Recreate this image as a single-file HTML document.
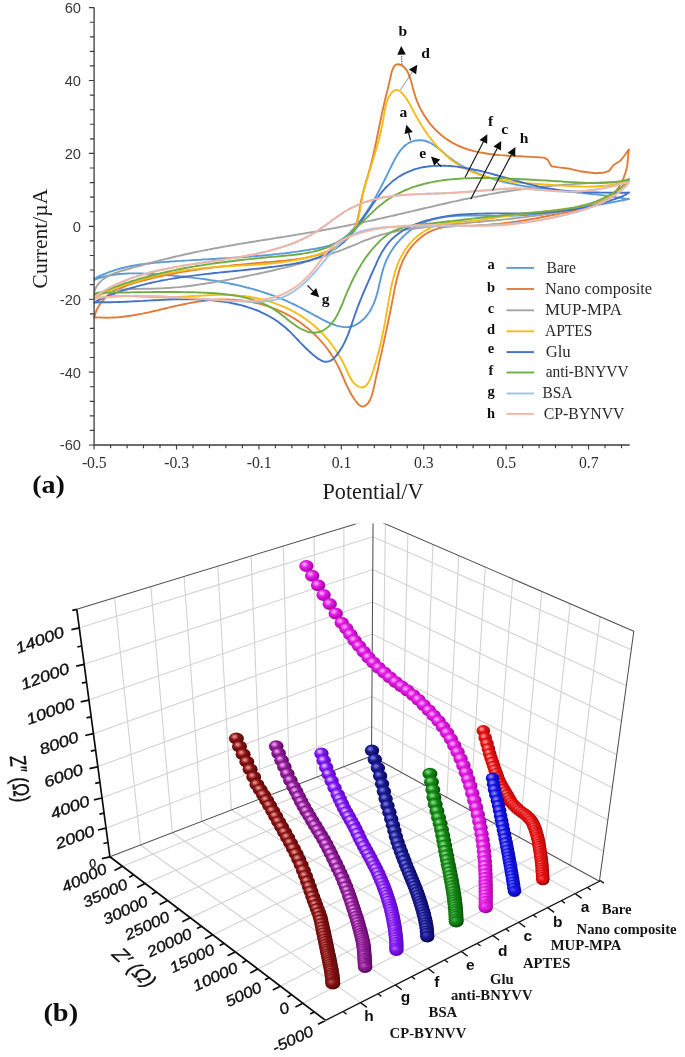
<!DOCTYPE html>
<html><head><meta charset="utf-8"><title>Figure</title>
<style>html,body{margin:0;padding:0;background:#fff}body{width:685px;height:1057px;overflow:hidden;font-family:"Liberation Sans",sans-serif}svg{display:block}</style></head><body>
<svg width="685" height="1057" viewBox="0 0 685 1057">
<defs><filter id="soft" filterUnits="userSpaceOnUse" x="0" y="0" width="685" height="1057"><feGaussianBlur stdDeviation="0.42"/></filter></defs>
<rect width="685" height="1057" fill="#fff"/>
<g filter="url(#soft)">
<rect width="685" height="1057" fill="#fff"/>
<defs><clipPath id="c3"><rect x="0" y="523.6" width="685" height="540"/></clipPath>
<radialGradient id="ga" cx=".42" cy=".4" r=".69" fx=".36" fy=".34"><stop offset="0" stop-color="#ff8c8c"/><stop offset=".09" stop-color="#ff8c8c"/><stop offset=".25" stop-color="#ef4646"/><stop offset=".42" stop-color="#e20c0c"/><stop offset=".62" stop-color="#cd0a0a"/><stop offset=".8" stop-color="#a20505"/><stop offset="1" stop-color="#7a0000"/></radialGradient>
<radialGradient id="gae" cx=".42" cy=".4" r=".69" fx=".36" fy=".34"><stop offset="0" stop-color="#ef4646"/><stop offset=".09" stop-color="#ef4646"/><stop offset=".25" stop-color="#e82626"/><stop offset=".42" stop-color="#e20c0c"/><stop offset=".62" stop-color="#cd0a0a"/><stop offset=".8" stop-color="#a20505"/><stop offset="1" stop-color="#7a0000"/></radialGradient>
<radialGradient id="gb" cx=".42" cy=".4" r=".69" fx=".36" fy=".34"><stop offset="0" stop-color="#8080ff"/><stop offset=".09" stop-color="#8080ff"/><stop offset=".25" stop-color="#4444ee"/><stop offset=".42" stop-color="#1212e0"/><stop offset=".62" stop-color="#0e0ecc"/><stop offset=".8" stop-color="#0707a1"/><stop offset="1" stop-color="#00007a"/></radialGradient>
<radialGradient id="gbe" cx=".42" cy=".4" r=".69" fx=".36" fy=".34"><stop offset="0" stop-color="#4444ee"/><stop offset=".09" stop-color="#4444ee"/><stop offset=".25" stop-color="#2828e6"/><stop offset=".42" stop-color="#1212e0"/><stop offset=".62" stop-color="#0e0ecc"/><stop offset=".8" stop-color="#0707a1"/><stop offset="1" stop-color="#00007a"/></radialGradient>
<radialGradient id="gc" cx=".42" cy=".4" r=".69" fx=".36" fy=".34"><stop offset="0" stop-color="#ff9cff"/><stop offset=".09" stop-color="#ff9cff"/><stop offset=".25" stop-color="#ed51ed"/><stop offset=".42" stop-color="#de14de"/><stop offset=".62" stop-color="#ca10ca"/><stop offset=".8" stop-color="#a108a1"/><stop offset="1" stop-color="#7c007c"/></radialGradient>
<radialGradient id="gce" cx=".42" cy=".4" r=".69" fx=".36" fy=".34"><stop offset="0" stop-color="#ed51ed"/><stop offset=".09" stop-color="#ed51ed"/><stop offset=".25" stop-color="#e52fe5"/><stop offset=".42" stop-color="#de14de"/><stop offset=".62" stop-color="#ca10ca"/><stop offset=".8" stop-color="#a108a1"/><stop offset="1" stop-color="#7c007c"/></radialGradient>
<radialGradient id="gd" cx=".42" cy=".4" r=".69" fx=".36" fy=".34"><stop offset="0" stop-color="#7ad87a"/><stop offset=".09" stop-color="#7ad87a"/><stop offset=".25" stop-color="#41a941"/><stop offset=".42" stop-color="#128212"/><stop offset=".62" stop-color="#0e720e"/><stop offset=".8" stop-color="#075007"/><stop offset="1" stop-color="#003200"/></radialGradient>
<radialGradient id="gde" cx=".42" cy=".4" r=".69" fx=".36" fy=".34"><stop offset="0" stop-color="#41a941"/><stop offset=".09" stop-color="#41a941"/><stop offset=".25" stop-color="#279427"/><stop offset=".42" stop-color="#128212"/><stop offset=".62" stop-color="#0e720e"/><stop offset=".8" stop-color="#075007"/><stop offset="1" stop-color="#003200"/></radialGradient>
<radialGradient id="ge" cx=".42" cy=".4" r=".69" fx=".36" fy=".34"><stop offset="0" stop-color="#7272dc"/><stop offset=".09" stop-color="#7272dc"/><stop offset=".25" stop-color="#3f3faf"/><stop offset=".42" stop-color="#15158a"/><stop offset=".62" stop-color="#111179"/><stop offset=".8" stop-color="#080856"/><stop offset="1" stop-color="#000036"/></radialGradient>
<radialGradient id="gee" cx=".42" cy=".4" r=".69" fx=".36" fy=".34"><stop offset="0" stop-color="#3f3faf"/><stop offset=".09" stop-color="#3f3faf"/><stop offset=".25" stop-color="#28289b"/><stop offset=".42" stop-color="#15158a"/><stop offset=".62" stop-color="#111179"/><stop offset=".8" stop-color="#080856"/><stop offset="1" stop-color="#000036"/></radialGradient>
<radialGradient id="gf" cx=".42" cy=".4" r=".69" fx=".36" fy=".34"><stop offset="0" stop-color="#d4b0ff"/><stop offset=".09" stop-color="#d4b0ff"/><stop offset=".25" stop-color="#a459f6"/><stop offset=".42" stop-color="#7d12ee"/><stop offset=".62" stop-color="#6f0eda"/><stop offset=".8" stop-color="#5207b1"/><stop offset="1" stop-color="#38008c"/></radialGradient>
<radialGradient id="gfe" cx=".42" cy=".4" r=".69" fx=".36" fy=".34"><stop offset="0" stop-color="#a459f6"/><stop offset=".09" stop-color="#a459f6"/><stop offset=".25" stop-color="#8f32f2"/><stop offset=".42" stop-color="#7d12ee"/><stop offset=".62" stop-color="#6f0eda"/><stop offset=".8" stop-color="#5207b1"/><stop offset="1" stop-color="#38008c"/></radialGradient>
<radialGradient id="gg" cx=".42" cy=".4" r=".69" fx=".36" fy=".34"><stop offset="0" stop-color="#ea96ee"/><stop offset=".09" stop-color="#ea96ee"/><stop offset=".25" stop-color="#b450ba"/><stop offset=".42" stop-color="#87168f"/><stop offset=".62" stop-color="#78127f"/><stop offset=".8" stop-color="#57085e"/><stop offset="1" stop-color="#3a0040"/></radialGradient>
<radialGradient id="gge" cx=".42" cy=".4" r=".69" fx=".36" fy=".34"><stop offset="0" stop-color="#b450ba"/><stop offset=".09" stop-color="#b450ba"/><stop offset=".25" stop-color="#9b30a2"/><stop offset=".42" stop-color="#87168f"/><stop offset=".62" stop-color="#78127f"/><stop offset=".8" stop-color="#57085e"/><stop offset="1" stop-color="#3a0040"/></radialGradient>
<radialGradient id="gh" cx=".42" cy=".4" r=".69" fx=".36" fy=".34"><stop offset="0" stop-color="#e48888"/><stop offset=".09" stop-color="#e48888"/><stop offset=".25" stop-color="#ae4646"/><stop offset=".42" stop-color="#821010"/><stop offset=".62" stop-color="#710d0d"/><stop offset=".8" stop-color="#4d0606"/><stop offset="1" stop-color="#2c0000"/></radialGradient>
<radialGradient id="ghe" cx=".42" cy=".4" r=".69" fx=".36" fy=".34"><stop offset="0" stop-color="#ae4646"/><stop offset=".09" stop-color="#ae4646"/><stop offset=".25" stop-color="#962828"/><stop offset=".42" stop-color="#821010"/><stop offset=".62" stop-color="#710d0d"/><stop offset=".8" stop-color="#4d0606"/><stop offset="1" stop-color="#2c0000"/></radialGradient>
</defs>
<g id="eis" clip-path="url(#c3)">
<path d="M114.6 597.7L140.5 845M150.8 586.6L172.3 832.7M184.1 576.5L201.7 821.4M217.8 566.1L231.4 810M251.1 555.9L260.9 798.6M283.3 546.1L289.5 787.6M314.1 536.7L316.9 777M343.9 527.5L343.5 766.8M385.4 523.9L382 761.8M407.9 533.6L402 772.8M432.9 544.5L424.1 784.9M458.8 555.6L446.9 797.5M485.3 567.1L470.3 810.3M512.8 579L494.4 823.6M541.7 591.5L519.6 837.4M570.2 603.8L544.5 851.1M600.1 616.7L570.5 865.4M79.4 627.8L373 536.8L631.3 649.7M84.2 664.3L372.8 569.5L626.3 685.7M88.7 700.1L372.5 602L621.5 720.7M93.2 733.7L372.3 634L616.8 754.7M97.4 766.8L372.1 665.5L612.3 787.7M101.9 798L371.9 696.5L607.8 820M105.9 828.2L371.7 726.5L603.5 851.3M122 866.6L382 761.8M144.6 883.7L402 772.8M167.2 900.8L424.1 784.9M189.8 917.9L446.9 797.5M212.4 935L470.3 810.3M235.1 952L494.4 823.6M257.7 969.1L519.6 837.4M280.3 986.2L544.5 851.1M302.9 1003.3L570.5 865.4M360.5 1002.6L140.5 845M395.4 984.9L172.3 832.7M427.9 968.4L201.7 821.4M461.3 951.4L231.4 810M492.8 935.4L260.9 798.6M518.7 922.3L289.5 787.6M547.7 907.6L316.9 777M575.2 893.6L343.5 766.8" stroke="#d2d2d2" stroke-width="1.1" fill="none"/>
<path d="M76.8 609.3L373.1 518.6M373.1 518.6L371.5 756M373.1 518.6L633.8 631.3L599.4 881.3M109.9 856.8L371.5 756L599.4 881.3" stroke="#505050" stroke-width="1.05" fill="none" stroke-linejoin="round"/>
<path d="M355.7 523.9L372 518.9" stroke="#fff" stroke-width="3"/>
<path d="M76.8 609.3L109.9 856.8L325.5 1020.4M79.4 627.8l-8 1.8M84.2 664.3l-8 1.8M81.8 646l-4.5 1M88.7 700.1l-8 1.8M86.5 682.2l-4.5 1M93.2 733.7l-8 1.8M91 716.9l-4.5 1M97.4 766.8l-8 1.8M95.3 750.2l-4.5 1M101.9 798l-8 1.8M99.7 782.4l-4.5 1M105.9 828.2l-8 1.8M103.9 813.1l-4.5 1M109.9 856.8l-8 1.8M107.9 842.5l-4.5 1M76.8 609.3l-4.5 1M122 866.6l-7.5 3.8M144.6 883.7l-7.5 3.8M133.3 875.1l-4.1 2.1M167.2 900.8l-7.5 3.8M155.9 892.2l-4.1 2.1M189.8 917.9l-7.5 3.8M178.5 909.3l-4.1 2.1M212.4 935l-7.5 3.8M201.1 926.4l-4.1 2.1M235.1 952l-7.5 3.8M223.8 943.5l-4.1 2.1M257.7 969.1l-7.5 3.8M246.4 960.6l-4.1 2.1M280.3 986.2l-7.5 3.8M269 977.7l-4.1 2.1M302.9 1003.3l-7.5 3.8M291.6 994.8l-4.1 2.1M325.5 1020.4l-7.5 3.8M314.2 1011.9l-4.1 2.1" stroke="#0c0c0c" stroke-width="1.7" fill="none" stroke-linejoin="round"/>
<path d="M325.5 1020.4L601 880.5M360.5 1002.6l6.4 4.8M343 1011.5l3.5 2.6M395.4 984.9l6.4 4.8M377.9 993.8l3.5 2.6M427.9 968.4l6.4 4.8M411.6 976.6l3.5 2.6M461.3 951.4l6.4 4.8M444.6 959.9l3.5 2.6M492.8 935.4l6.4 4.8M477.1 943.4l3.5 2.6M518.7 922.3l6.4 4.8M505.8 928.9l3.5 2.6M547.7 907.6l6.4 4.8M533.2 914.9l3.5 2.6M575.2 893.6l6.4 4.8M561.5 900.6l3.5 2.6M587.3 887.4l3.5 2.6M600.6 880.7l3.2 2.4" stroke="#141414" stroke-width="1.35" fill="none" stroke-linejoin="round"/>
<g fill="url(#ga)">
<ellipse cx="483.3" cy="730.7" rx="6.8" ry="5.7"/><ellipse cx="485.2" cy="737.7" rx="6.8" ry="5.7"/><ellipse cx="487" cy="743.6" rx="6.8" ry="5.7"/><ellipse cx="488.4" cy="748.9" rx="6.8" ry="5.7"/><ellipse cx="489.7" cy="753.7" rx="6.8" ry="5.7"/><ellipse cx="491" cy="758.1" rx="6.8" ry="5.7"/><ellipse cx="492.4" cy="762.3" rx="6.8" ry="5.7"/><ellipse cx="493.7" cy="766.3" rx="6.8" ry="5.7"/><ellipse cx="495" cy="770" rx="6.8" ry="5.7"/><ellipse cx="496.3" cy="773.6" rx="6.8" ry="5.7"/><ellipse cx="497.5" cy="776.9" rx="6.8" ry="5.7"/><ellipse cx="498.9" cy="780.4" rx="6.8" ry="5.7"/><ellipse cx="500.4" cy="783.6" rx="6.8" ry="5.7"/><ellipse cx="502" cy="786.5" rx="6.8" ry="5.7"/><ellipse cx="503.7" cy="789.4" rx="6.8" ry="5.7"/><ellipse cx="505.3" cy="792" rx="6.8" ry="5.7"/><ellipse cx="507" cy="794.8" rx="6.8" ry="5.7"/><ellipse cx="508.5" cy="797.6" rx="6.8" ry="5.7"/><ellipse cx="510" cy="800.2" rx="6.8" ry="5.7"/><ellipse cx="511.6" cy="802.7" rx="6.8" ry="5.7"/><ellipse cx="513.5" cy="804.9" rx="6.8" ry="5.7"/><ellipse cx="515.5" cy="806.9" rx="6.8" ry="5.7"/><ellipse cx="517.3" cy="808.6" rx="6.8" ry="5.7"/><ellipse cx="519.4" cy="810.4" rx="6.8" ry="5.7"/><ellipse cx="521.7" cy="812.1" rx="6.8" ry="5.7"/><ellipse cx="524" cy="813.6" rx="6.8" ry="5.7"/><ellipse cx="526" cy="815.3" rx="6.8" ry="5.7"/><ellipse cx="527.9" cy="817.1" rx="6.8" ry="5.7"/><ellipse cx="529.7" cy="818.9" rx="6.8" ry="5.7"/><ellipse cx="531.3" cy="820.9" rx="6.8" ry="5.7"/><ellipse cx="532.6" cy="823.1" rx="6.8" ry="5.7"/><ellipse cx="533.7" cy="825.4" rx="6.8" ry="5.7"/><ellipse cx="534.6" cy="827.6" rx="6.8" ry="5.7"/><ellipse cx="535.5" cy="830.1" rx="6.8" ry="5.7"/><ellipse cx="536.2" cy="832.5" rx="6.8" ry="5.7"/><ellipse cx="536.9" cy="834.8" rx="6.8" ry="5.7"/><ellipse cx="537.5" cy="837.1" rx="6.8" ry="5.7"/><ellipse cx="538" cy="839.3" rx="6.8" ry="5.7"/><ellipse cx="538.5" cy="841.8" rx="6.8" ry="5.7"/><ellipse cx="538.9" cy="844.1" rx="6.8" ry="5.7"/><ellipse cx="539.3" cy="846.5" rx="6.8" ry="5.7"/><ellipse cx="539.7" cy="848.7" rx="6.8" ry="5.7"/><ellipse cx="540.1" cy="851.2" rx="6.8" ry="5.7"/><ellipse cx="540.5" cy="853.7" rx="6.8" ry="5.7"/><ellipse cx="540.8" cy="856" rx="6.8" ry="5.7"/><ellipse cx="541.1" cy="858.2" rx="6.8" ry="5.7"/><ellipse cx="541.4" cy="860.8" rx="6.8" ry="5.7"/><ellipse cx="541.7" cy="863" rx="6.8" ry="5.7"/><ellipse cx="541.9" cy="865.3" rx="6.8" ry="5.7"/><ellipse cx="542.1" cy="867.9" rx="6.8" ry="5.7"/><ellipse cx="542.3" cy="870.2" rx="6.8" ry="5.7"/><ellipse cx="542.4" cy="872.5" rx="6.8" ry="5.7"/><ellipse cx="542.6" cy="875" rx="6.8" ry="5.7"/><ellipse cx="542.7" cy="877.4" rx="6.8" ry="5.7"/><ellipse cx="542.8" cy="879.6" rx="6.8" ry="5.7" fill="url(#gae)"/>
</g>
<g fill="url(#gb)">
<ellipse cx="492.6" cy="778.3" rx="6.8" ry="5.7"/><ellipse cx="493.6" cy="784.3" rx="6.8" ry="5.7"/><ellipse cx="494.6" cy="789.8" rx="6.8" ry="5.7"/><ellipse cx="495.8" cy="795" rx="6.8" ry="5.7"/><ellipse cx="497.4" cy="800.5" rx="6.8" ry="5.7"/><ellipse cx="498.6" cy="805.5" rx="6.8" ry="5.7"/><ellipse cx="499.6" cy="810.5" rx="6.8" ry="5.7"/><ellipse cx="500.6" cy="815.7" rx="6.8" ry="5.7"/><ellipse cx="501.6" cy="820.5" rx="6.8" ry="5.7"/><ellipse cx="502.5" cy="825.2" rx="6.8" ry="5.7"/><ellipse cx="503.4" cy="829.9" rx="6.8" ry="5.7"/><ellipse cx="504.4" cy="834.3" rx="6.8" ry="5.7"/><ellipse cx="505.2" cy="838.5" rx="6.8" ry="5.7"/><ellipse cx="506.1" cy="842.7" rx="6.8" ry="5.7"/><ellipse cx="506.8" cy="846.4" rx="6.8" ry="5.7"/><ellipse cx="507.5" cy="850.1" rx="6.8" ry="5.7"/><ellipse cx="508.2" cy="853.6" rx="6.8" ry="5.7"/><ellipse cx="508.8" cy="856.9" rx="6.8" ry="5.7"/><ellipse cx="509.3" cy="860" rx="6.8" ry="5.7"/><ellipse cx="509.9" cy="863.3" rx="6.8" ry="5.7"/><ellipse cx="510.5" cy="866.3" rx="6.8" ry="5.7"/><ellipse cx="511" cy="869.5" rx="6.8" ry="5.7"/><ellipse cx="511.5" cy="872.5" rx="6.8" ry="5.7"/><ellipse cx="512.1" cy="875.7" rx="6.8" ry="5.7"/><ellipse cx="512.6" cy="878.9" rx="6.8" ry="5.7"/><ellipse cx="513.1" cy="882.1" rx="6.8" ry="5.7"/><ellipse cx="513.6" cy="885.1" rx="6.8" ry="5.7"/><ellipse cx="514" cy="888.3" rx="6.8" ry="5.7"/><ellipse cx="514.5" cy="891.3" rx="6.8" ry="5.7" fill="url(#gbe)"/>
</g>
<g fill="url(#gc)">
<ellipse cx="306.4" cy="566.1" rx="7.2" ry="6"/><ellipse cx="312.2" cy="575.8" rx="7.2" ry="6"/><ellipse cx="318.1" cy="585.2" rx="7.2" ry="6"/><ellipse cx="323.6" cy="594.9" rx="7.2" ry="6"/><ellipse cx="329.7" cy="604.1" rx="7.2" ry="6"/><ellipse cx="335.7" cy="613.5" rx="7.2" ry="6"/><ellipse cx="341.7" cy="622.7" rx="7.2" ry="6"/><ellipse cx="346.3" cy="628.4" rx="7.2" ry="6"/><ellipse cx="350.4" cy="634.5" rx="7.2" ry="6"/><ellipse cx="354.6" cy="640.4" rx="7.2" ry="6"/><ellipse cx="359" cy="646.1" rx="7.2" ry="6"/><ellipse cx="363.7" cy="651.8" rx="7.2" ry="6"/><ellipse cx="368.5" cy="657.5" rx="7.2" ry="6"/><ellipse cx="373.3" cy="662.6" rx="7.2" ry="6"/><ellipse cx="378.6" cy="667.7" rx="7.2" ry="6"/><ellipse cx="384.2" cy="672.5" rx="7.2" ry="6"/><ellipse cx="389.8" cy="677.3" rx="7.2" ry="6"/><ellipse cx="395.5" cy="681.9" rx="7.2" ry="6"/><ellipse cx="401.4" cy="686.2" rx="7.2" ry="6"/><ellipse cx="407.3" cy="690.4" rx="7.2" ry="6"/><ellipse cx="413.1" cy="695" rx="7.2" ry="6"/><ellipse cx="418.4" cy="699.7" rx="7.2" ry="6"/><ellipse cx="423.6" cy="704.9" rx="7.2" ry="6"/><ellipse cx="428.8" cy="710.3" rx="7.2" ry="6"/><ellipse cx="433.7" cy="715.6" rx="7.2" ry="6"/><ellipse cx="438.5" cy="721.1" rx="7.2" ry="6"/><ellipse cx="442.9" cy="726.7" rx="7.2" ry="6"/><ellipse cx="447" cy="732.7" rx="7.2" ry="6"/><ellipse cx="450.8" cy="739" rx="7.2" ry="6"/><ellipse cx="454.3" cy="745.4" rx="7.2" ry="6"/><ellipse cx="457.6" cy="752.1" rx="7.2" ry="6"/><ellipse cx="460.6" cy="758.7" rx="7.2" ry="6"/><ellipse cx="463.4" cy="765.5" rx="7.2" ry="6"/><ellipse cx="465.9" cy="772.4" rx="7.2" ry="6"/><ellipse cx="468.2" cy="779.3" rx="7.2" ry="6"/><ellipse cx="470.3" cy="786.1" rx="7.2" ry="6"/><ellipse cx="472.3" cy="793.2" rx="7.2" ry="6"/><ellipse cx="474.3" cy="800.2" rx="7.2" ry="6"/><ellipse cx="476.1" cy="807.3" rx="7.2" ry="6"/><ellipse cx="477.8" cy="814.4" rx="7.2" ry="6"/><ellipse cx="479.3" cy="821.3" rx="7.2" ry="6"/><ellipse cx="480.5" cy="827.7" rx="7.2" ry="6"/><ellipse cx="481.6" cy="833.9" rx="7.2" ry="6"/><ellipse cx="482.6" cy="839.9" rx="7.2" ry="6"/><ellipse cx="483.3" cy="845.6" rx="7.2" ry="6"/><ellipse cx="483.9" cy="851" rx="7.2" ry="6"/><ellipse cx="484.4" cy="856.3" rx="7.2" ry="6"/><ellipse cx="484.8" cy="861" rx="7.2" ry="6"/><ellipse cx="485.1" cy="865.8" rx="7.2" ry="6"/><ellipse cx="485.3" cy="869.9" rx="7.2" ry="6"/><ellipse cx="485.5" cy="874" rx="7.2" ry="6"/><ellipse cx="485.6" cy="877.8" rx="7.2" ry="6"/><ellipse cx="485.6" cy="881.6" rx="7.2" ry="6"/><ellipse cx="485.7" cy="885" rx="7.2" ry="6"/><ellipse cx="485.7" cy="888.3" rx="7.2" ry="6"/><ellipse cx="485.7" cy="891.7" rx="7.2" ry="6"/><ellipse cx="485.8" cy="894.9" rx="7.2" ry="6"/><ellipse cx="485.7" cy="898.4" rx="7.2" ry="6"/><ellipse cx="485.7" cy="901.8" rx="7.2" ry="6"/><ellipse cx="485.7" cy="905.1" rx="7.2" ry="6"/><ellipse cx="485.7" cy="907.2" rx="7.2" ry="6" fill="url(#gce)"/>
</g>
<g fill="url(#gd)">
<ellipse cx="429.9" cy="773.8" rx="7.5" ry="6"/><ellipse cx="431.5" cy="782.1" rx="7.5" ry="6"/><ellipse cx="432.8" cy="789.7" rx="7.5" ry="6"/><ellipse cx="433.9" cy="797.3" rx="7.5" ry="6"/><ellipse cx="435.2" cy="804.3" rx="7.5" ry="6"/><ellipse cx="436.9" cy="811.1" rx="7.5" ry="6"/><ellipse cx="438.5" cy="817.4" rx="7.5" ry="6"/><ellipse cx="440.1" cy="823.6" rx="7.5" ry="6"/><ellipse cx="441.5" cy="829.4" rx="7.5" ry="6"/><ellipse cx="442.7" cy="835.2" rx="7.5" ry="6"/><ellipse cx="443.7" cy="840.4" rx="7.5" ry="6"/><ellipse cx="444.7" cy="845.6" rx="7.5" ry="6"/><ellipse cx="445.6" cy="850.7" rx="7.5" ry="6"/><ellipse cx="446.5" cy="855.3" rx="7.5" ry="6"/><ellipse cx="447.3" cy="859.7" rx="7.5" ry="6"/><ellipse cx="448.2" cy="864.2" rx="7.5" ry="6"/><ellipse cx="449" cy="868.1" rx="7.5" ry="6"/><ellipse cx="449.8" cy="872" rx="7.5" ry="6"/><ellipse cx="450.5" cy="875.7" rx="7.5" ry="6"/><ellipse cx="451.2" cy="879.2" rx="7.5" ry="6"/><ellipse cx="451.8" cy="882.7" rx="7.5" ry="6"/><ellipse cx="452.4" cy="885.9" rx="7.5" ry="6"/><ellipse cx="452.9" cy="888.9" rx="7.5" ry="6"/><ellipse cx="453.4" cy="891.9" rx="7.5" ry="6"/><ellipse cx="453.8" cy="894.9" rx="7.5" ry="6"/><ellipse cx="454.2" cy="897.5" rx="7.5" ry="6"/><ellipse cx="454.5" cy="900.1" rx="7.5" ry="6"/><ellipse cx="454.8" cy="902.5" rx="7.5" ry="6"/><ellipse cx="455.1" cy="904.8" rx="7.5" ry="6"/><ellipse cx="455.3" cy="907.2" rx="7.5" ry="6"/><ellipse cx="455.6" cy="909.7" rx="7.5" ry="6"/><ellipse cx="455.8" cy="912" rx="7.5" ry="6"/><ellipse cx="455.9" cy="914.4" rx="7.5" ry="6"/><ellipse cx="456" cy="916.7" rx="7.5" ry="6"/><ellipse cx="456.1" cy="919.3" rx="7.5" ry="6"/><ellipse cx="456.2" cy="921.6" rx="7.5" ry="6" fill="url(#gde)"/>
</g>
<g fill="url(#ge)">
<ellipse cx="372" cy="750.6" rx="7.2" ry="6"/><ellipse cx="374.8" cy="759.5" rx="7.2" ry="6"/><ellipse cx="377.9" cy="768" rx="7.2" ry="6"/><ellipse cx="380.1" cy="776" rx="7.2" ry="6"/><ellipse cx="382.1" cy="784" rx="7.2" ry="6"/><ellipse cx="383.9" cy="791.5" rx="7.2" ry="6"/><ellipse cx="385.6" cy="798.8" rx="7.2" ry="6"/><ellipse cx="387.5" cy="805.7" rx="7.2" ry="6"/><ellipse cx="389.4" cy="812.3" rx="7.2" ry="6"/><ellipse cx="391.2" cy="818.9" rx="7.2" ry="6"/><ellipse cx="392.9" cy="824.9" rx="7.2" ry="6"/><ellipse cx="394.4" cy="830.7" rx="7.2" ry="6"/><ellipse cx="395.9" cy="836.6" rx="7.2" ry="6"/><ellipse cx="397.5" cy="841.9" rx="7.2" ry="6"/><ellipse cx="399.2" cy="846.9" rx="7.2" ry="6"/><ellipse cx="400.9" cy="851.6" rx="7.2" ry="6"/><ellipse cx="402.7" cy="856.3" rx="7.2" ry="6"/><ellipse cx="404.3" cy="860.5" rx="7.2" ry="6"/><ellipse cx="405.9" cy="864.7" rx="7.2" ry="6"/><ellipse cx="407.5" cy="868.7" rx="7.2" ry="6"/><ellipse cx="409.1" cy="872.4" rx="7.2" ry="6"/><ellipse cx="410.6" cy="876.2" rx="7.2" ry="6"/><ellipse cx="412" cy="879.7" rx="7.2" ry="6"/><ellipse cx="413.4" cy="883" rx="7.2" ry="6"/><ellipse cx="414.7" cy="886.3" rx="7.2" ry="6"/><ellipse cx="416" cy="889.6" rx="7.2" ry="6"/><ellipse cx="417.1" cy="892.6" rx="7.2" ry="6"/><ellipse cx="418.1" cy="895.5" rx="7.2" ry="6"/><ellipse cx="419.1" cy="898.5" rx="7.2" ry="6"/><ellipse cx="420.1" cy="901.4" rx="7.2" ry="6"/><ellipse cx="420.9" cy="904.1" rx="7.2" ry="6"/><ellipse cx="421.7" cy="906.7" rx="7.2" ry="6"/><ellipse cx="422.5" cy="909.4" rx="7.2" ry="6"/><ellipse cx="423.3" cy="912.2" rx="7.2" ry="6"/><ellipse cx="424" cy="914.8" rx="7.2" ry="6"/><ellipse cx="424.6" cy="917.6" rx="7.2" ry="6"/><ellipse cx="425.3" cy="920.2" rx="7.2" ry="6"/><ellipse cx="425.8" cy="923" rx="7.2" ry="6"/><ellipse cx="426.3" cy="925.6" rx="7.2" ry="6"/><ellipse cx="426.7" cy="928.3" rx="7.2" ry="6"/><ellipse cx="426.9" cy="931.2" rx="7.2" ry="6"/><ellipse cx="427.1" cy="933.8" rx="7.2" ry="6"/><ellipse cx="427.3" cy="936.4" rx="7.2" ry="6" fill="url(#gee)"/>
</g>
<g fill="url(#gf)">
<ellipse cx="321.4" cy="753.4" rx="7.2" ry="6"/><ellipse cx="323.7" cy="760.6" rx="7.2" ry="6"/><ellipse cx="326.2" cy="767.6" rx="7.2" ry="6"/><ellipse cx="328.7" cy="774.3" rx="7.2" ry="6"/><ellipse cx="331.6" cy="781.1" rx="7.2" ry="6"/><ellipse cx="334.5" cy="787.8" rx="7.2" ry="6"/><ellipse cx="337.7" cy="794.4" rx="7.2" ry="6"/><ellipse cx="339.7" cy="798.9" rx="7.2" ry="6"/><ellipse cx="341.8" cy="803.6" rx="7.2" ry="6"/><ellipse cx="343.9" cy="807.9" rx="7.2" ry="6"/><ellipse cx="346.3" cy="812.3" rx="7.2" ry="6"/><ellipse cx="348.7" cy="816.5" rx="7.2" ry="6"/><ellipse cx="351" cy="820.7" rx="7.2" ry="6"/><ellipse cx="353.4" cy="825" rx="7.2" ry="6"/><ellipse cx="355.5" cy="829.1" rx="7.2" ry="6"/><ellipse cx="357.6" cy="833.5" rx="7.2" ry="6"/><ellipse cx="359.6" cy="837.7" rx="7.2" ry="6"/><ellipse cx="361.7" cy="842" rx="7.2" ry="6"/><ellipse cx="364" cy="846.2" rx="7.2" ry="6"/><ellipse cx="366.2" cy="850.3" rx="7.2" ry="6"/><ellipse cx="368.4" cy="854.3" rx="7.2" ry="6"/><ellipse cx="370.4" cy="858.1" rx="7.2" ry="6"/><ellipse cx="372.4" cy="861.9" rx="7.2" ry="6"/><ellipse cx="374.4" cy="865.7" rx="7.2" ry="6"/><ellipse cx="376.1" cy="869.1" rx="7.2" ry="6"/><ellipse cx="377.9" cy="872.7" rx="7.2" ry="6"/><ellipse cx="379.4" cy="876.2" rx="7.2" ry="6"/><ellipse cx="380.9" cy="879.7" rx="7.2" ry="6"/><ellipse cx="382.3" cy="883" rx="7.2" ry="6"/><ellipse cx="383.6" cy="886.3" rx="7.2" ry="6"/><ellipse cx="384.7" cy="889.3" rx="7.2" ry="6"/><ellipse cx="385.9" cy="892.6" rx="7.2" ry="6"/><ellipse cx="386.9" cy="895.5" rx="7.2" ry="6"/><ellipse cx="387.9" cy="898.6" rx="7.2" ry="6"/><ellipse cx="388.8" cy="901.5" rx="7.2" ry="6"/><ellipse cx="389.7" cy="904.4" rx="7.2" ry="6"/><ellipse cx="390.4" cy="907" rx="7.2" ry="6"/><ellipse cx="391.1" cy="909.6" rx="7.2" ry="6"/><ellipse cx="391.7" cy="912.3" rx="7.2" ry="6"/><ellipse cx="392.3" cy="914.9" rx="7.2" ry="6"/><ellipse cx="392.9" cy="917.4" rx="7.2" ry="6"/><ellipse cx="393.4" cy="919.9" rx="7.2" ry="6"/><ellipse cx="393.8" cy="922.4" rx="7.2" ry="6"/><ellipse cx="394.3" cy="925.1" rx="7.2" ry="6"/><ellipse cx="394.7" cy="927.6" rx="7.2" ry="6"/><ellipse cx="395.1" cy="930.1" rx="7.2" ry="6"/><ellipse cx="395.4" cy="932.9" rx="7.2" ry="6"/><ellipse cx="395.7" cy="935.3" rx="7.2" ry="6"/><ellipse cx="395.9" cy="937.8" rx="7.2" ry="6"/><ellipse cx="396.2" cy="940.3" rx="7.2" ry="6"/><ellipse cx="396.4" cy="943" rx="7.2" ry="6"/><ellipse cx="396.4" cy="945.5" rx="7.2" ry="6"/><ellipse cx="396.4" cy="948.1" rx="7.2" ry="6"/><ellipse cx="396.4" cy="950" rx="7.2" ry="6" fill="url(#gfe)"/>
</g>
<g fill="url(#gg)">
<ellipse cx="276.2" cy="746.2" rx="7.3" ry="6"/><ellipse cx="278.6" cy="753.2" rx="7.3" ry="6"/><ellipse cx="281.5" cy="760.2" rx="7.3" ry="6"/><ellipse cx="284.3" cy="766.8" rx="7.3" ry="6"/><ellipse cx="287.3" cy="773.7" rx="7.3" ry="6"/><ellipse cx="290.4" cy="780.4" rx="7.3" ry="6"/><ellipse cx="293.5" cy="786.8" rx="7.3" ry="6"/><ellipse cx="296.1" cy="791.6" rx="7.3" ry="6"/><ellipse cx="298.7" cy="796.7" rx="7.3" ry="6"/><ellipse cx="301.2" cy="801.7" rx="7.3" ry="6"/><ellipse cx="303.8" cy="806.6" rx="7.3" ry="6"/><ellipse cx="306.5" cy="811.3" rx="7.3" ry="6"/><ellipse cx="309.4" cy="816.1" rx="7.3" ry="6"/><ellipse cx="312.2" cy="820.7" rx="7.3" ry="6"/><ellipse cx="315.1" cy="825.4" rx="7.3" ry="6"/><ellipse cx="317.8" cy="830" rx="7.3" ry="6"/><ellipse cx="320.7" cy="834.8" rx="7.3" ry="6"/><ellipse cx="323.5" cy="839.3" rx="7.3" ry="6"/><ellipse cx="326.2" cy="844.2" rx="7.3" ry="6"/><ellipse cx="328.6" cy="848.9" rx="7.3" ry="6"/><ellipse cx="330.9" cy="853.6" rx="7.3" ry="6"/><ellipse cx="333.3" cy="858.5" rx="7.3" ry="6"/><ellipse cx="335.7" cy="863.3" rx="7.3" ry="6"/><ellipse cx="338" cy="868.2" rx="7.3" ry="6"/><ellipse cx="340.2" cy="873" rx="7.3" ry="6"/><ellipse cx="342.3" cy="877.6" rx="7.3" ry="6"/><ellipse cx="344.2" cy="882.2" rx="7.3" ry="6"/><ellipse cx="346" cy="886.8" rx="7.3" ry="6"/><ellipse cx="347.6" cy="890.9" rx="7.3" ry="6"/><ellipse cx="349.1" cy="895.2" rx="7.3" ry="6"/><ellipse cx="350.4" cy="899.1" rx="7.3" ry="6"/><ellipse cx="351.7" cy="902.9" rx="7.3" ry="6"/><ellipse cx="352.9" cy="906.7" rx="7.3" ry="6"/><ellipse cx="354" cy="910" rx="7.3" ry="6"/><ellipse cx="355.1" cy="913.4" rx="7.3" ry="6"/><ellipse cx="356.2" cy="916.7" rx="7.3" ry="6"/><ellipse cx="357.1" cy="919.8" rx="7.3" ry="6"/><ellipse cx="358" cy="922.7" rx="7.3" ry="6"/><ellipse cx="358.8" cy="925.7" rx="7.3" ry="6"/><ellipse cx="359.6" cy="928.4" rx="7.3" ry="6"/><ellipse cx="360.3" cy="931.1" rx="7.3" ry="6"/><ellipse cx="360.9" cy="933.8" rx="7.3" ry="6"/><ellipse cx="361.5" cy="936.1" rx="7.3" ry="6"/><ellipse cx="362.1" cy="938.6" rx="7.3" ry="6"/><ellipse cx="362.7" cy="940.9" rx="7.3" ry="6"/><ellipse cx="363.1" cy="943" rx="7.3" ry="6"/><ellipse cx="363.5" cy="945.2" rx="7.3" ry="6"/><ellipse cx="363.8" cy="947.4" rx="7.3" ry="6"/><ellipse cx="364" cy="949.5" rx="7.3" ry="6"/><ellipse cx="364.1" cy="951.7" rx="7.3" ry="6"/><ellipse cx="364.3" cy="954" rx="7.3" ry="6"/><ellipse cx="364.5" cy="956" rx="7.3" ry="6"/><ellipse cx="364.6" cy="958.4" rx="7.3" ry="6"/><ellipse cx="364.7" cy="960.4" rx="7.3" ry="6"/><ellipse cx="364.8" cy="962.8" rx="7.3" ry="6"/><ellipse cx="365" cy="964.9" rx="7.3" ry="6"/><ellipse cx="365.1" cy="967" rx="7.3" ry="6" fill="url(#gge)"/>
</g>
<g fill="url(#gh)">
<ellipse cx="236.4" cy="738.4" rx="7.5" ry="6"/><ellipse cx="239.5" cy="746.4" rx="7.5" ry="6"/><ellipse cx="243.1" cy="754.2" rx="7.5" ry="6"/><ellipse cx="246.8" cy="761.7" rx="7.5" ry="6"/><ellipse cx="250.1" cy="769.3" rx="7.5" ry="6"/><ellipse cx="253.7" cy="777" rx="7.5" ry="6"/><ellipse cx="256.9" cy="784.5" rx="7.5" ry="6"/><ellipse cx="260.2" cy="789.7" rx="7.5" ry="6"/><ellipse cx="263.5" cy="794.9" rx="7.5" ry="6"/><ellipse cx="266.6" cy="800.3" rx="7.5" ry="6"/><ellipse cx="269.6" cy="805.6" rx="7.5" ry="6"/><ellipse cx="272.7" cy="811.1" rx="7.5" ry="6"/><ellipse cx="275.7" cy="816.3" rx="7.5" ry="6"/><ellipse cx="278.6" cy="821.7" rx="7.5" ry="6"/><ellipse cx="281.6" cy="827" rx="7.5" ry="6"/><ellipse cx="284.6" cy="832.3" rx="7.5" ry="6"/><ellipse cx="287.6" cy="837.5" rx="7.5" ry="6"/><ellipse cx="290.5" cy="843" rx="7.5" ry="6"/><ellipse cx="293.4" cy="848.4" rx="7.5" ry="6"/><ellipse cx="296.1" cy="853.8" rx="7.5" ry="6"/><ellipse cx="298.7" cy="859.2" rx="7.5" ry="6"/><ellipse cx="301.1" cy="864.8" rx="7.5" ry="6"/><ellipse cx="303.4" cy="870.4" rx="7.5" ry="6"/><ellipse cx="305.5" cy="876" rx="7.5" ry="6"/><ellipse cx="307.5" cy="881.4" rx="7.5" ry="6"/><ellipse cx="309.3" cy="886.5" rx="7.5" ry="6"/><ellipse cx="311" cy="891.5" rx="7.5" ry="6"/><ellipse cx="312.7" cy="896.4" rx="7.5" ry="6"/><ellipse cx="314.2" cy="900.8" rx="7.5" ry="6"/><ellipse cx="315.8" cy="905.1" rx="7.5" ry="6"/><ellipse cx="317.2" cy="909" rx="7.5" ry="6"/><ellipse cx="318.7" cy="912.8" rx="7.5" ry="6"/><ellipse cx="320" cy="916.5" rx="7.5" ry="6"/><ellipse cx="320.9" cy="920.1" rx="7.5" ry="6"/><ellipse cx="321.7" cy="923.7" rx="7.5" ry="6"/><ellipse cx="322.4" cy="927.1" rx="7.5" ry="6"/><ellipse cx="323.1" cy="930.2" rx="7.5" ry="6"/><ellipse cx="323.7" cy="933.2" rx="7.5" ry="6"/><ellipse cx="324.4" cy="936.3" rx="7.5" ry="6"/><ellipse cx="325" cy="939.3" rx="7.5" ry="6"/><ellipse cx="325.5" cy="941.9" rx="7.5" ry="6"/><ellipse cx="326.1" cy="944.5" rx="7.5" ry="6"/><ellipse cx="326.6" cy="946.9" rx="7.5" ry="6"/><ellipse cx="327.1" cy="949.5" rx="7.5" ry="6"/><ellipse cx="327.5" cy="951.7" rx="7.5" ry="6"/><ellipse cx="328" cy="953.9" rx="7.5" ry="6"/><ellipse cx="328.5" cy="956" rx="7.5" ry="6"/><ellipse cx="328.9" cy="958.2" rx="7.5" ry="6"/><ellipse cx="329.4" cy="960.5" rx="7.5" ry="6"/><ellipse cx="329.8" cy="962.5" rx="7.5" ry="6"/><ellipse cx="330.2" cy="964.8" rx="7.5" ry="6"/><ellipse cx="330.7" cy="966.9" rx="7.5" ry="6"/><ellipse cx="331.1" cy="969" rx="7.5" ry="6"/><ellipse cx="331.4" cy="971.1" rx="7.5" ry="6"/><ellipse cx="331.8" cy="973.5" rx="7.5" ry="6"/><ellipse cx="332.1" cy="975.6" rx="7.5" ry="6"/><ellipse cx="332.4" cy="977.7" rx="7.5" ry="6"/><ellipse cx="332.5" cy="979.8" rx="7.5" ry="6"/><ellipse cx="332.7" cy="981.9" rx="7.5" ry="6"/><ellipse cx="332.8" cy="983.6" rx="7.5" ry="6" fill="url(#ghe)"/>
</g>
<g font-family="'Liberation Sans',sans-serif" font-style="italic" font-size="15.3" fill="#111" stroke="#111" stroke-width=".35" text-anchor="middle">
<text transform="translate(39.6 640) rotate(-20) scale(1.19 1)" y="5.3">14000</text>
<text transform="translate(45 676.4) rotate(-20) scale(1.19 1)" y="5.3">12000</text>
<text transform="translate(50.5 711.4) rotate(-20) scale(1.19 1)" y="5.3">10000</text>
<text transform="translate(59 743.2) rotate(-20) scale(1.19 1)" y="5.3">8000</text>
<text transform="translate(63.5 775.8) rotate(-20) scale(1.19 1)" y="5.3">6000</text>
<text transform="translate(70 807.3) rotate(-20) scale(1.19 1)" y="5.3">4000</text>
<text transform="translate(75 837.3) rotate(-20) scale(1.19 1)" y="5.3">2000</text>
<text transform="translate(92.5 863.5) rotate(-20)" y="4" font-size="12">0</text>
<text transform="translate(84.2 877.8) rotate(-25) scale(1.12 1)" y="5.3">40000</text>
<text transform="translate(105 893.2) rotate(-25) scale(1.12 1)" y="5.3">35000</text>
<text transform="translate(125.4 910.2) rotate(-25) scale(1.12 1)" y="5.3">30000</text>
<text transform="translate(147 925.6) rotate(-25) scale(1.12 1)" y="5.3">25000</text>
<text transform="translate(169.4 942.6) rotate(-25) scale(1.12 1)" y="5.3">20000</text>
<text transform="translate(192 958.4) rotate(-25) scale(1.12 1)" y="5.3">15000</text>
<text transform="translate(215.2 976.6) rotate(-25) scale(1.12 1)" y="5.3">10000</text>
<text transform="translate(243.4 994.4) rotate(-25) scale(1.12 1)" y="5.3">5000</text>
<text transform="translate(284 1008.5) rotate(-25) scale(1.12 1)" y="5.3">0</text>
<text transform="translate(292.6 1039.4) rotate(-25) scale(1.12 1)" y="5.3">-5000</text>
</g>
<g font-family="'Liberation Sans',sans-serif" font-size="17.6" fill="#111" stroke="#111" stroke-width=".3" text-anchor="middle">
<text transform="translate(18.5 779) rotate(84.5) scale(1 1.3)" y="5">Z″ (Ω)</text>
<text transform="translate(133.4 968.4) rotate(43) skewX(-18) scale(1.12 1.15)" y="5">Z′ (Ω)</text>
</g>
<g font-family="'Liberation Sans',sans-serif" font-weight="bold" font-size="15.5" fill="#111" text-anchor="middle">
<text x="585.1" y="912.3">a</text>
<text x="557.7" y="927.3">b</text>
<text x="527.7" y="941.3">c</text>
<text x="502.8" y="955.8">d</text>
<text x="470.3" y="969.7">e</text>
<text x="436.9" y="987.2">f</text>
<text x="405.4" y="1002.2">g</text>
<text x="369" y="1021.2">h</text>
</g>
<g font-family="'Liberation Serif',serif" font-weight="bold" font-size="14.7" fill="#151515" text-anchor="middle">
<text x="616.6" y="913.6">Bare</text>
<text x="626.6" y="933.6">Nano composite</text>
<text x="586.1" y="949.6">MUP-MPA</text>
<text x="546.7" y="967.5">APTES</text>
<text x="501.8" y="983.5">Glu</text>
<text x="491.8" y="999.5">anti-BNYVV</text>
<text x="442.9" y="1017">BSA</text>
<text x="427.9" y="1037.9">CP-BYNVV</text>
</g>
<text x="43.4" y="1020.6" font-family="'Liberation Serif',serif" font-weight="bold" font-size="26" fill="#111" textLength="34.8" lengthAdjust="spacingAndGlyphs">(b)</text>
</g>
<g id="cv">
<path d="M94.4 278.9C95 278.6 96.7 277.6 97.9 276.9C99.1 276.3 100.4 275.7 101.6 275.2C102.8 274.6 104.1 274.1 105.3 273.6C106.6 273.1 107.8 272.6 109.1 272.1C110.3 271.7 111.6 271.2 112.9 270.8C114.2 270.4 115.4 270 116.7 269.6C118 269.2 119.3 268.8 120.6 268.5C121.9 268.2 123.2 267.8 124.5 267.5C125.8 267.2 127.1 266.9 128.4 266.6C129.7 266.4 131 266.1 132.3 265.8C133.7 265.6 135 265.4 136.3 265.1C137.6 264.9 139 264.7 140.3 264.5C141.6 264.3 143 264.1 144.3 264C145.6 263.8 147 263.6 148.3 263.5C149.7 263.3 151 263.2 152.4 263C153.7 262.9 155 262.8 156.4 262.6C157.7 262.5 159.1 262.4 160.4 262.3C161.8 262.2 163.1 262.1 164.5 262C165.8 261.9 167.2 261.8 168.5 261.7C169.8 261.6 171.2 261.5 172.5 261.4C173.9 261.3 175.2 261.2 176.6 261.1C177.9 261 179.2 260.9 180.6 260.9C181.9 260.8 183.3 260.7 184.6 260.6C185.9 260.5 187.3 260.4 188.6 260.4C190 260.3 191.3 260.2 192.6 260.1C194 260 195.3 260 196.7 259.9C198 259.8 199.3 259.7 200.7 259.7C202 259.6 203.4 259.5 204.7 259.4C206 259.4 207.4 259.3 208.7 259.2C210 259.1 211.4 259.1 212.7 259C214.1 258.9 215.4 258.8 216.7 258.8C218.1 258.7 219.4 258.6 220.7 258.5C222.1 258.5 223.4 258.4 224.8 258.3C226.1 258.2 227.4 258.1 228.8 258.1C230.1 258 231.5 257.9 232.8 257.8C234.1 257.7 235.5 257.6 236.8 257.5C238.2 257.5 239.5 257.4 240.9 257.3C242.2 257.2 243.5 257.1 244.9 257C246.2 256.9 247.6 256.8 248.9 256.7C250.3 256.6 251.6 256.5 253 256.4C254.3 256.3 255.6 256.1 257 256C258.3 255.9 259.7 255.8 261 255.7C262.4 255.6 263.7 255.4 265.1 255.3C266.4 255.2 267.7 255.1 269.1 254.9C270.4 254.8 271.8 254.7 273.1 254.5C274.5 254.4 275.8 254.2 277.2 254.1C278.5 254 279.8 253.8 281.2 253.6C282.5 253.5 283.9 253.3 285.2 253.2C286.5 253 287.9 252.8 289.2 252.7C290.6 252.5 291.9 252.3 293.2 252.1C294.6 252 295.9 251.8 297.2 251.6C298.6 251.4 299.9 251.2 301.2 251C302.6 250.8 303.9 250.6 305.2 250.4C306.6 250.2 307.9 250 309.2 249.8C310.5 249.5 311.9 249.3 313.2 249.1C314.5 248.9 315.8 248.6 317.1 248.4C318.5 248.1 319.8 247.9 321.1 247.6C322.4 247.3 323.7 247 325 246.7C326.3 246.4 327.5 246 328.8 245.6C330 245.2 331.3 244.8 332.5 244.3C333.7 243.9 334.9 243.3 336.1 242.8C337.3 242.2 338.5 241.6 339.6 240.9C340.8 240.2 341.9 239.5 342.9 238.7C344 237.9 345.1 237 346.1 236.2C347.2 235.3 348.2 234.3 349.2 233.4C350.1 232.4 351.1 231.4 352 230.4C353 229.4 353.9 228.3 354.8 227.3C355.7 226.3 356.6 225.2 357.4 224.1C358.3 223.1 359.1 222 360 221C360.8 219.9 361.6 218.9 362.4 217.8C363.2 216.7 363.9 215.6 364.7 214.6C365.5 213.5 366.2 212.4 366.9 211.3C367.7 210.2 368.4 209.1 369.1 208C369.8 206.9 370.5 205.8 371.2 204.7C371.8 203.6 372.5 202.4 373.2 201.3C373.8 200.2 374.5 199.1 375.1 197.9C375.8 196.8 376.4 195.6 377 194.5C377.7 193.3 378.3 192.1 378.9 191C379.6 189.8 380.2 188.6 380.8 187.4C381.4 186.2 382 185 382.6 183.8C383.2 182.6 383.9 181.4 384.5 180.2C385.1 178.9 385.7 177.7 386.3 176.5C386.9 175.2 387.5 174 388.2 172.7C388.8 171.4 389.4 170.1 390 168.9C390.7 167.6 391.3 166.3 391.9 165C392.6 163.7 393.2 162.4 393.9 161.1C394.6 159.8 395.2 158.6 395.9 157.3C396.7 156.1 397.4 154.9 398.1 153.7C398.9 152.6 399.7 151.5 400.5 150.4C401.3 149.4 402.2 148.3 403.1 147.4C404 146.5 404.9 145.6 405.9 144.9C406.9 144.1 408 143.4 409 142.8C410.1 142.2 411.3 141.8 412.4 141.4C413.6 141 414.8 140.7 416 140.5C417.2 140.3 418.4 140.2 419.7 140.2C420.9 140.2 422.2 140.3 423.4 140.5C424.6 140.7 425.8 141.1 427 141.5C428.2 141.9 429.4 142.4 430.6 143C431.7 143.6 432.8 144.3 434 145C435.1 145.8 436.2 146.6 437.3 147.5C438.4 148.3 439.5 149.2 440.6 150.1C441.7 151 442.8 152 443.8 152.9C444.9 153.8 446 154.8 447.1 155.7C448.2 156.6 449.3 157.5 450.4 158.3C451.5 159.2 452.6 160 453.7 160.8C454.8 161.6 456 162.3 457.1 163C458.2 163.8 459.4 164.4 460.5 165.1C461.7 165.8 462.8 166.4 464 167.1C465.2 167.7 466.3 168.3 467.5 168.9C468.7 169.5 469.9 170 471.1 170.6C472.3 171.2 473.5 171.7 474.7 172.2C475.9 172.8 477.1 173.3 478.4 173.8C479.6 174.3 480.8 174.7 482 175.2C483.3 175.7 484.5 176.1 485.8 176.6C487 177 488.3 177.4 489.5 177.8C490.8 178.2 492 178.6 493.3 179C494.6 179.4 495.9 179.8 497.1 180.1C498.4 180.5 499.7 180.8 501 181.2C502.3 181.5 503.6 181.8 504.9 182.2C506.2 182.5 507.5 182.8 508.8 183.1C510.1 183.4 511.4 183.7 512.7 183.9C514 184.2 515.3 184.5 516.6 184.7C518 185 519.3 185.2 520.6 185.5C521.9 185.7 523.3 185.9 524.6 186.2C525.9 186.4 527.3 186.6 528.6 186.8C529.9 187 531.3 187.2 532.6 187.4C533.9 187.6 535.3 187.8 536.6 188C538 188.2 539.3 188.4 540.7 188.5C542 188.7 543.4 188.9 544.7 189C546.1 189.2 547.4 189.4 548.8 189.5C550.1 189.7 551.5 189.8 552.8 190C554.2 190.1 555.6 190.3 556.9 190.4C558.3 190.6 559.6 190.7 561 190.9C562.3 191 563.7 191.1 565 191.3C566.4 191.4 567.8 191.5 569.1 191.7C570.5 191.8 571.8 191.9 573.2 192.1C574.5 192.2 575.9 192.3 577.2 192.5C578.6 192.6 579.9 192.8 581.3 192.9C582.6 193 584 193.2 585.3 193.3C586.7 193.4 588 193.6 589.4 193.7C590.7 193.9 592 194 593.4 194.2C594.7 194.3 596.1 194.5 597.4 194.6C598.7 194.8 600.1 195 601.4 195.1C602.7 195.3 604 195.5 605.4 195.6C606.7 195.8 608 196 609.3 196.2C610.6 196.4 611.9 196.6 613.2 196.8C614.5 197 615.8 197.2 617.1 197.4C618.4 197.6 619.7 197.8 621 198C622.3 198.3 623.6 198.6 624.9 198.7C626.2 198.9 628.3 199 629 199M629 199C628.3 199.1 626.4 199.5 625.1 199.8C623.8 200.1 622.4 200.3 621 200.6C619.7 200.8 618.3 201.1 617 201.4C615.6 201.6 614.3 201.9 612.9 202.1C611.6 202.4 610.2 202.6 608.9 202.9C607.5 203.1 606.2 203.4 604.9 203.6C603.5 203.9 602.2 204.2 600.9 204.4C599.5 204.6 598.2 204.9 596.9 205.1C595.6 205.4 594.2 205.6 592.9 205.9C591.6 206.1 590.3 206.3 588.9 206.6C587.6 206.8 586.3 207.1 585 207.3C583.7 207.5 582.3 207.7 581 208C579.7 208.2 578.4 208.4 577.1 208.6C575.8 208.9 574.5 209.1 573.1 209.3C571.8 209.5 570.5 209.7 569.2 209.9C567.9 210.1 566.6 210.3 565.3 210.5C563.9 210.7 562.6 210.9 561.3 211.1C560 211.3 558.7 211.5 557.4 211.6C556.1 211.8 554.8 212 553.4 212.2C552.1 212.3 550.8 212.5 549.5 212.7C548.2 212.8 546.9 213 545.5 213.1C544.2 213.3 542.9 213.4 541.6 213.6C540.3 213.7 538.9 213.9 537.6 214C536.3 214.1 535 214.2 533.6 214.4C532.3 214.5 531 214.6 529.6 214.7C528.3 214.8 527 214.9 525.6 215C524.3 215.1 523 215.2 521.6 215.3C520.3 215.3 518.9 215.4 517.6 215.5C516.2 215.5 514.9 215.6 513.5 215.6C512.2 215.7 510.8 215.7 509.5 215.8C508.1 215.8 506.7 215.8 505.4 215.9C504 215.9 502.6 215.9 501.3 215.9C499.9 215.9 498.5 215.9 497.1 215.9C495.7 215.9 494.4 215.9 493 215.9C491.6 215.8 490.2 215.8 488.8 215.8C487.4 215.7 486 215.7 484.6 215.7C483.2 215.7 481.8 215.6 480.4 215.6C479 215.6 477.7 215.5 476.3 215.5C474.9 215.5 473.5 215.5 472.1 215.5C470.7 215.5 469.3 215.5 467.9 215.5C466.5 215.5 465.2 215.5 463.8 215.5C462.4 215.6 461 215.6 459.7 215.7C458.3 215.7 456.9 215.8 455.6 215.9C454.2 216 452.9 216.1 451.5 216.2C450.2 216.3 448.9 216.5 447.5 216.6C446.2 216.8 444.9 217 443.6 217.2C442.3 217.4 440.9 217.6 439.7 217.9C438.4 218.1 437.1 218.4 435.8 218.7C434.5 219 433.3 219.4 432 219.7C430.8 220.1 429.5 220.5 428.3 220.9C427.1 221.4 425.8 221.8 424.6 222.3C423.4 222.9 422.2 223.4 421.1 224C419.9 224.5 418.7 225.1 417.6 225.8C416.5 226.4 415.3 227.1 414.2 227.8C413.1 228.5 412 229.3 410.9 230.1C409.9 230.8 408.8 231.6 407.8 232.5C406.7 233.3 405.7 234.2 404.7 235.1C403.7 236 402.8 236.9 401.8 237.8C400.9 238.8 400 239.8 399.1 240.8C398.2 241.8 397.3 242.8 396.5 243.9C395.6 244.9 394.8 246 394 247.1C393.2 248.2 392.5 249.3 391.7 250.4C391 251.6 390.3 252.7 389.6 253.9C389 255.1 388.3 256.3 387.7 257.5C387.1 258.8 386.6 260 386 261.2C385.5 262.5 385 263.8 384.5 265.1C384.1 266.3 383.6 267.6 383.2 268.9C382.8 270.3 382.5 271.6 382.1 272.9C381.7 274.2 381.4 275.6 381.1 276.9C380.8 278.3 380.5 279.6 380.2 281C379.8 282.3 379.5 283.7 379.2 285C378.9 286.4 378.6 287.7 378.3 289.1C378 290.4 377.6 291.8 377.3 293.1C376.9 294.4 376.5 295.7 376.1 297C375.7 298.4 375.3 299.7 374.8 300.9C374.3 302.2 373.8 303.5 373.3 304.7C372.7 306 372.1 307.2 371.5 308.4C370.8 309.6 370.1 310.8 369.4 312C368.6 313.1 367.8 314.3 366.9 315.3C366 316.4 365.1 317.5 364.2 318.5C363.2 319.4 362.2 320.4 361.1 321.2C360.1 322.1 359 322.9 357.9 323.6C356.8 324.3 355.7 324.9 354.5 325.4C353.3 325.9 352.1 326.3 350.9 326.6C349.7 326.9 348.5 327.1 347.2 327.1C346 327.2 344.8 327.2 343.5 327.1C342.2 326.9 341 326.7 339.7 326.4C338.4 326.2 337.1 325.8 335.8 325.4C334.6 325 333.3 324.5 332 324C330.7 323.5 329.4 322.9 328.2 322.3C326.9 321.8 325.6 321.1 324.4 320.5C323.1 319.9 321.9 319.2 320.7 318.6C319.4 318 318.2 317.3 317 316.7C315.8 316 314.6 315.4 313.4 314.7C312.2 314 311.1 313.4 309.9 312.7C308.7 312.1 307.5 311.4 306.4 310.8C305.2 310.2 304 309.5 302.8 308.9C301.6 308.3 300.5 307.6 299.3 307C298.1 306.4 296.9 305.8 295.7 305.2C294.5 304.6 293.3 304 292.1 303.5C290.9 302.9 289.7 302.3 288.4 301.8C287.2 301.2 286 300.7 284.7 300.2C283.5 299.6 282.2 299.1 281 298.6C279.8 298.1 278.5 297.6 277.2 297.1C276 296.6 274.7 296.2 273.4 295.7C272.2 295.2 270.9 294.8 269.6 294.3C268.3 293.9 267.1 293.5 265.8 293C264.5 292.6 263.2 292.2 261.9 291.8C260.6 291.4 259.3 291 258 290.6C256.7 290.2 255.4 289.8 254.1 289.4C252.8 289.1 251.5 288.7 250.2 288.4C248.9 288 247.6 287.7 246.2 287.3C244.9 287 243.6 286.7 242.3 286.3C241 286 239.7 285.7 238.4 285.4C237 285.1 235.7 284.8 234.4 284.5C233.1 284.2 231.8 283.9 230.4 283.7C229.1 283.4 227.8 283.1 226.5 282.9C225.2 282.6 223.8 282.4 222.5 282.1C221.2 281.9 219.9 281.6 218.6 281.4C217.2 281.2 215.9 280.9 214.6 280.7C213.3 280.5 211.9 280.3 210.6 280.1C209.3 279.9 207.9 279.7 206.6 279.5C205.3 279.3 204 279.1 202.6 278.9C201.3 278.7 200 278.6 198.6 278.4C197.3 278.2 196 278 194.6 277.9C193.3 277.7 192 277.6 190.6 277.4C189.3 277.3 188 277.1 186.6 277C185.3 276.8 184 276.7 182.6 276.5C181.3 276.4 179.9 276.3 178.6 276.1C177.2 276 175.9 275.9 174.6 275.8C173.2 275.6 171.9 275.5 170.5 275.4C169.2 275.3 167.8 275.2 166.5 275.1C165.1 275 163.8 274.9 162.4 274.8C161.1 274.6 159.7 274.5 158.4 274.4C157 274.3 155.7 274.3 154.3 274.2C153 274.1 151.6 274 150.3 273.9C148.9 273.8 147.5 273.7 146.2 273.7C144.8 273.6 143.5 273.6 142.1 273.5C140.8 273.5 139.4 273.4 138.1 273.4C136.7 273.4 135.4 273.4 134 273.4C132.7 273.4 131.3 273.4 130 273.4C128.6 273.5 127.3 273.5 125.9 273.6C124.6 273.7 123.2 273.8 121.9 273.9C120.6 274 119.2 274.1 117.9 274.2C116.6 274.4 115.2 274.6 113.9 274.7C112.6 274.9 111.3 275.2 109.9 275.4C108.6 275.6 107.3 275.9 106 276.2C104.7 276.5 103.4 276.8 102.1 277.2C100.8 277.5 99.5 277.8 98.2 278.3C96.9 278.7 95 279.5 94.4 279.8" fill="none" stroke="#5b9bd5" stroke-width="1.9" stroke-linejoin="round" stroke-linecap="round"/>
<path d="M94.4 317.5C94.6 316.8 94.9 314.7 95.4 313.4C95.8 312.1 96.3 310.8 96.9 309.5C97.5 308.3 98.1 307.1 98.8 306C99.5 304.8 100.2 303.7 101 302.7C101.8 301.7 102.6 300.7 103.5 299.8C104.4 298.8 105.3 297.9 106.2 297.1C107.2 296.2 108.2 295.4 109.2 294.6C110.2 293.9 111.3 293.1 112.4 292.4C113.5 291.7 114.6 291.1 115.8 290.4C117 289.8 118.1 289.2 119.4 288.6C120.6 288 121.8 287.5 123 287C124.3 286.5 125.6 286 126.8 285.5C128.1 285 129.4 284.6 130.7 284.1C132 283.7 133.4 283.3 134.7 282.9C136 282.5 137.3 282.1 138.7 281.7C140 281.3 141.3 280.9 142.7 280.6C144 280.2 145.3 279.9 146.7 279.5C148 279.2 149.3 278.9 150.7 278.5C152 278.2 153.3 277.9 154.7 277.6C156 277.2 157.3 276.9 158.6 276.6C159.9 276.3 161.3 276.1 162.6 275.8C163.9 275.5 165.2 275.2 166.6 274.9C167.9 274.7 169.2 274.4 170.5 274.1C171.8 273.9 173.1 273.6 174.5 273.4C175.8 273.1 177.1 272.9 178.4 272.6C179.7 272.4 181 272.2 182.3 271.9C183.7 271.7 185 271.5 186.3 271.3C187.6 271.1 188.9 270.8 190.2 270.6C191.5 270.4 192.8 270.2 194.2 270C195.5 269.8 196.8 269.6 198.1 269.5C199.4 269.3 200.7 269.1 202 268.9C203.3 268.7 204.6 268.6 206 268.4C207.3 268.2 208.6 268 209.9 267.9C211.2 267.7 212.5 267.6 213.8 267.4C215.2 267.2 216.5 267.1 217.8 266.9C219.1 266.8 220.4 266.6 221.7 266.5C223 266.3 224.4 266.2 225.7 266.1C227 265.9 228.3 265.8 229.6 265.6C231 265.5 232.3 265.4 233.6 265.2C234.9 265.1 236.3 265 237.6 264.9C238.9 264.7 240.2 264.6 241.6 264.5C242.9 264.3 244.2 264.2 245.5 264.1C246.9 264 248.2 263.9 249.5 263.7C250.9 263.6 252.2 263.5 253.5 263.4C254.9 263.3 256.2 263.1 257.6 263C258.9 262.9 260.2 262.8 261.6 262.7C262.9 262.6 264.3 262.4 265.6 262.3C267 262.2 268.3 262.1 269.7 262C271 261.8 272.4 261.7 273.8 261.6C275.1 261.5 276.5 261.4 277.8 261.2C279.2 261.1 280.6 261 281.9 260.9C283.3 260.8 284.7 260.6 286 260.5C287.4 260.3 288.8 260.2 290.1 260C291.5 259.9 292.8 259.7 294.2 259.6C295.5 259.4 296.9 259.2 298.2 259C299.6 258.8 300.9 258.6 302.3 258.4C303.6 258.1 304.9 257.9 306.3 257.6C307.6 257.4 308.9 257.1 310.2 256.8C311.5 256.5 312.8 256.2 314.1 255.9C315.4 255.5 316.7 255.2 318 254.8C319.2 254.4 320.5 254 321.7 253.5C323 253.1 324.2 252.7 325.4 252.2C326.6 251.7 327.8 251.1 329 250.6C330.2 250 331.4 249.5 332.6 248.8C333.7 248.2 334.9 247.6 336 246.9C337.1 246.2 338.2 245.5 339.3 244.7C340.4 244 341.5 243.2 342.5 242.3C343.5 241.5 344.6 240.6 345.5 239.7C346.5 238.8 347.4 237.8 348.3 236.8C349.2 235.9 350.1 234.8 350.9 233.8C351.7 232.7 352.4 231.6 353.1 230.5C353.8 229.3 354.4 228.1 354.9 226.9C355.5 225.7 356 224.5 356.4 223.2C356.9 221.9 357.2 220.6 357.6 219.3C357.9 218 358.2 216.6 358.5 215.3C358.8 213.9 359.1 212.5 359.3 211.2C359.6 209.8 359.8 208.4 360 207.1C360.3 205.7 360.5 204.3 360.7 202.9C361 201.6 361.2 200.2 361.5 198.9C361.8 197.6 362.1 196.3 362.4 195C362.7 193.6 363.1 192.4 363.4 191.1C363.7 189.8 364.1 188.5 364.4 187.2C364.8 186 365.2 184.7 365.5 183.4C365.9 182.2 366.3 180.9 366.7 179.6C367.1 178.4 367.4 177.1 367.8 175.8C368.2 174.6 368.6 173.3 368.9 172C369.3 170.7 369.6 169.4 370 168.2C370.3 166.9 370.7 165.5 371 164.2C371.4 162.9 371.7 161.6 372 160.3C372.3 159 372.6 157.6 373 156.3C373.3 155 373.6 153.6 373.9 152.3C374.2 151 374.5 149.6 374.8 148.3C375.1 147 375.3 145.6 375.6 144.3C375.9 142.9 376.2 141.6 376.5 140.2C376.7 138.9 377 137.6 377.3 136.2C377.6 134.9 377.8 133.6 378.1 132.2C378.4 130.9 378.6 129.6 378.9 128.3C379.2 126.9 379.4 125.6 379.7 124.3C380 123 380.2 121.7 380.5 120.4C380.8 119.1 381 117.8 381.3 116.5C381.6 115.3 381.9 114 382.1 112.7C382.4 111.5 382.7 110.2 382.9 109C383.2 107.8 383.5 106.5 383.8 105.3C384.1 104.1 384.4 102.9 384.6 101.7C384.9 100.5 385.2 99.3 385.5 98C385.8 96.8 386.1 95.6 386.4 94.3C386.7 93.1 387 91.8 387.4 90.5C387.7 89.2 388 87.9 388.3 86.6C388.7 85.2 389 83.8 389.3 82.4C389.7 81 390 79.5 390.3 78C390.7 76.4 391 74.8 391.4 73.2C391.8 71.7 392.2 70.1 392.8 68.8C393.4 67.5 394 66.3 394.8 65.5C395.7 64.8 396.7 64.4 397.8 64.3C398.8 64.3 400.1 64.7 401.1 65.2C402.2 65.7 403.2 66.5 404 67.2C404.9 68 405.7 68.9 406.4 69.9C407.1 70.9 407.7 72 408.2 73.2C408.8 74.3 409.3 75.6 409.7 76.9C410.2 78.1 410.6 79.5 411 80.8C411.4 82.2 411.7 83.6 412.1 85C412.5 86.4 412.8 87.9 413.2 89.3C413.6 90.7 414 92.1 414.4 93.5C414.8 94.9 415.3 96.2 415.7 97.6C416.2 98.9 416.7 100.3 417.2 101.6C417.8 102.9 418.3 104.2 418.9 105.5C419.5 106.7 420.1 108 420.7 109.2C421.4 110.4 422 111.6 422.7 112.8C423.4 114 424.1 115.2 424.8 116.3C425.5 117.4 426.3 118.5 427.1 119.6C427.8 120.7 428.6 121.8 429.4 122.8C430.3 123.9 431.1 124.9 432 125.9C432.8 126.9 433.7 127.9 434.6 128.8C435.5 129.8 436.5 130.7 437.4 131.6C438.3 132.5 439.3 133.4 440.3 134.2C441.3 135.1 442.3 135.9 443.3 136.7C444.4 137.5 445.4 138.3 446.5 139C447.5 139.7 448.6 140.4 449.7 141.1C450.8 141.8 451.9 142.5 453.1 143.1C454.2 143.7 455.4 144.3 456.6 144.9C457.7 145.5 458.9 146 460.1 146.5C461.3 147 462.6 147.5 463.8 148C465 148.4 466.3 148.9 467.6 149.3C468.8 149.7 470.1 150.1 471.4 150.4C472.7 150.8 474 151.1 475.3 151.4C476.6 151.7 478 152 479.3 152.3C480.6 152.5 482 152.8 483.3 153C484.7 153.3 486 153.5 487.4 153.7C488.8 153.9 490.1 154 491.5 154.2C492.9 154.4 494.3 154.5 495.6 154.7C497 154.8 498.4 154.9 499.8 155.1C501.2 155.2 502.6 155.3 503.9 155.4C505.3 155.5 506.7 155.6 508.1 155.7C509.5 155.7 510.9 155.8 512.2 155.9C513.6 156 515 156 516.3 156.1C517.7 156.2 519.1 156.2 520.4 156.3C521.8 156.4 523.1 156.4 524.5 156.5C525.8 156.5 527.2 156.6 528.5 156.7C529.8 156.7 531.1 156.8 532.4 156.9C533.7 157 535 157.1 536.3 157.1C537.6 157.2 538.8 157.3 540.1 157.4C541.4 157.5 543.3 157.6 544 157.6M544 157.6L547.6 159.6L551.4 166.2L558.8 167.4L570 168.8L579.8 171.2L595.6 173.2L603 172.8L609.2 170.9L613.3 165.2L620.5 160.7L625 155L628.9 149.4L627.3 165.2M627.3 165.2C627.2 165.8 626.8 167.8 626.5 169.1C626.2 170.4 625.8 171.7 625.4 173C625 174.3 624.5 175.5 624 176.8C623.5 178.1 623 179.3 622.4 180.6C621.8 181.8 621.1 183 620.4 184.2C619.8 185.4 619 186.6 618.3 187.7C617.5 188.8 616.7 189.9 615.8 191C615 192 614.1 193 613.1 194C612.2 195 611.2 195.9 610.2 196.7C609.2 197.6 608.2 198.4 607.1 199.2C606 199.9 604.9 200.6 603.7 201.2C602.6 201.9 601.4 202.5 600.2 203C599 203.6 597.8 204.1 596.6 204.6C595.3 205.1 594.1 205.5 592.8 205.9C591.5 206.4 590.2 206.7 588.9 207.1C587.6 207.5 586.3 207.8 585 208.1C583.7 208.5 582.3 208.8 581 209.1C579.7 209.4 578.3 209.7 577 210C575.6 210.3 574.3 210.5 572.9 210.8C571.6 211.1 570.3 211.4 568.9 211.7C567.6 212 566.3 212.2 564.9 212.5C563.6 212.8 562.3 213.1 560.9 213.4C559.6 213.6 558.3 213.9 557 214.2C555.6 214.4 554.3 214.7 553 215C551.7 215.3 550.3 215.5 549 215.8C547.7 216 546.4 216.3 545.1 216.6C543.7 216.8 542.4 217.1 541.1 217.3C539.8 217.6 538.5 217.8 537.1 218.1C535.8 218.3 534.5 218.5 533.2 218.8C531.9 219 530.5 219.2 529.2 219.5C527.9 219.7 526.6 219.9 525.3 220.1C523.9 220.4 522.6 220.6 521.3 220.8C520 221 518.7 221.2 517.3 221.4C516 221.6 514.7 221.8 513.4 222C512 222.2 510.7 222.3 509.4 222.5C508.1 222.7 506.7 222.9 505.4 223C504.1 223.2 502.7 223.3 501.4 223.5C500.1 223.6 498.7 223.8 497.4 223.9C496.1 224.1 494.7 224.2 493.4 224.3C492 224.4 490.7 224.6 489.4 224.7C488 224.8 486.7 224.9 485.3 225C484 225.1 482.6 225.2 481.3 225.2C479.9 225.3 478.6 225.4 477.2 225.4C475.8 225.5 474.5 225.6 473.1 225.6C471.7 225.6 470.4 225.7 469 225.7C467.6 225.7 466.3 225.8 464.9 225.8C463.5 225.8 462.1 225.8 460.8 225.8C459.4 225.9 458 225.9 456.7 226C455.3 226 453.9 226.1 452.6 226.2C451.2 226.3 449.9 226.4 448.6 226.5C447.2 226.6 445.9 226.8 444.6 227C443.3 227.2 442 227.5 440.7 227.8C439.4 228.1 438.1 228.4 436.9 228.8C435.6 229.2 434.4 229.6 433.1 230.1C431.9 230.6 430.7 231.2 429.5 231.8C428.3 232.4 427.2 233.1 426 233.8C424.9 234.5 423.8 235.3 422.7 236.1C421.6 236.9 420.6 237.8 419.5 238.7C418.5 239.5 417.5 240.4 416.5 241.4C415.5 242.3 414.6 243.3 413.6 244.3C412.7 245.3 411.8 246.3 411 247.4C410.2 248.4 409.4 249.5 408.6 250.6C407.8 251.7 407.1 252.8 406.4 254C405.7 255.1 405.1 256.3 404.5 257.5C403.8 258.7 403.3 259.9 402.7 261.1C402.2 262.4 401.7 263.6 401.2 264.9C400.7 266.1 400.2 267.4 399.8 268.7C399.4 270 399 271.3 398.6 272.6C398.2 273.9 397.8 275.2 397.5 276.5C397.1 277.9 396.8 279.2 396.5 280.5C396.2 281.9 395.9 283.2 395.6 284.6C395.3 285.9 395 287.3 394.7 288.6C394.5 290 394.2 291.3 394 292.6C393.7 294 393.4 295.3 393.2 296.7C392.9 298 392.7 299.3 392.4 300.7C392.2 302 391.9 303.3 391.7 304.6C391.4 305.9 391.1 307.2 390.9 308.5C390.6 309.8 390.4 311.1 390.1 312.4C389.8 313.7 389.6 315 389.3 316.3C389.1 317.6 388.8 318.9 388.5 320.1C388.3 321.4 388 322.7 387.7 324C387.4 325.3 387.2 326.5 386.9 327.8C386.6 329.1 386.4 330.4 386.1 331.6C385.8 332.9 385.5 334.2 385.3 335.5C385 336.8 384.7 338 384.4 339.3C384.1 340.6 383.9 341.9 383.6 343.2C383.3 344.5 383 345.8 382.7 347.1C382.4 348.3 382.2 349.6 381.9 351C381.6 352.3 381.3 353.6 381 354.9C380.7 356.2 380.4 357.5 380.1 358.9C379.8 360.2 379.5 361.5 379.2 362.9C378.9 364.2 378.6 365.6 378.4 366.9C378.1 368.3 377.8 369.6 377.5 371C377.1 372.4 376.8 373.8 376.5 375.2C376.2 376.6 375.9 378 375.6 379.4C375.3 380.8 375 382.3 374.7 383.7C374.4 385.1 374.1 386.6 373.8 388.1C373.4 389.5 373.1 391 372.7 392.4C372.4 393.8 372 395.2 371.5 396.5C371 397.8 370.5 399.1 369.9 400.2C369.3 401.3 368.7 402.4 367.9 403.3C367.1 404.3 366.2 405.2 365.3 405.7C364.3 406.3 363.3 406.7 362.3 406.6C361.3 406.5 360.3 405.9 359.4 405.2C358.4 404.5 357.5 403.3 356.7 402.3C355.8 401.3 355 400.1 354.2 399C353.4 397.8 352.7 396.7 352 395.6C351.3 394.4 350.6 393.2 350 392C349.4 390.9 348.8 389.7 348.2 388.5C347.6 387.3 347 386.1 346.4 384.8C345.9 383.6 345.3 382.4 344.8 381.2C344.3 380 343.7 378.7 343.2 377.5C342.7 376.3 342.1 375 341.6 373.8C341.1 372.6 340.5 371.4 340 370.2C339.4 368.9 338.8 367.7 338.2 366.5C337.7 365.3 337 364.1 336.4 362.9C335.8 361.8 335.1 360.6 334.4 359.4C333.8 358.3 333.1 357.1 332.3 356C331.6 354.8 330.9 353.7 330.1 352.6C329.3 351.5 328.5 350.4 327.7 349.3C326.9 348.2 326.1 347.1 325.2 346C324.4 345 323.5 343.9 322.6 342.9C321.7 341.9 320.8 340.8 319.9 339.8C319 338.8 318 337.8 317.1 336.9C316.1 335.9 315.1 334.9 314.1 334C313.2 333 312.1 332.1 311.1 331.2C310.1 330.3 309.1 329.4 308 328.5C307 327.6 305.9 326.8 304.8 325.9C303.7 325.1 302.7 324.3 301.6 323.5C300.4 322.7 299.3 321.9 298.2 321.1C297.1 320.4 295.9 319.6 294.8 318.9C293.7 318.2 292.5 317.5 291.3 316.8C290.2 316.1 289 315.5 287.8 314.8C286.6 314.2 285.4 313.6 284.2 313C283 312.4 281.8 311.8 280.6 311.2C279.4 310.7 278.2 310.1 276.9 309.6C275.7 309.1 274.5 308.6 273.2 308.1C272 307.7 270.7 307.2 269.5 306.8C268.2 306.3 266.9 305.9 265.7 305.5C264.4 305.1 263.1 304.8 261.9 304.4C260.6 304.1 259.3 303.7 258 303.4C256.7 303.1 255.4 302.8 254.1 302.5C252.8 302.2 251.5 302 250.2 301.7C248.9 301.5 247.6 301.3 246.3 301.1C244.9 300.9 243.6 300.7 242.3 300.5C241 300.4 239.7 300.2 238.3 300.1C237 300 235.7 299.9 234.4 299.8C233 299.7 231.7 299.6 230.4 299.6C229 299.5 227.7 299.5 226.3 299.4C225 299.4 223.7 299.4 222.3 299.4C221 299.5 219.7 299.5 218.3 299.5C217 299.6 215.6 299.7 214.3 299.7C213 299.8 211.6 299.9 210.3 300.1C209 300.2 207.6 300.3 206.3 300.5C205 300.6 203.6 300.8 202.3 301C201 301.1 199.6 301.3 198.3 301.5C197 301.8 195.6 302 194.3 302.2C193 302.4 191.7 302.7 190.3 302.9C189 303.2 187.7 303.4 186.3 303.7C185 304 183.7 304.3 182.4 304.5C181 304.8 179.7 305.1 178.4 305.4C177.1 305.7 175.7 306 174.4 306.3C173.1 306.6 171.8 306.9 170.4 307.2C169.1 307.6 167.8 307.9 166.5 308.2C165.1 308.5 163.8 308.8 162.5 309.1C161.2 309.4 159.8 309.7 158.5 310.1C157.2 310.4 155.9 310.7 154.5 311C153.2 311.3 151.9 311.6 150.6 311.9C149.2 312.2 147.9 312.5 146.6 312.7C145.3 313 143.9 313.3 142.6 313.6C141.3 313.8 140 314.1 138.6 314.3C137.3 314.6 136 314.8 134.6 315.1C133.3 315.3 132 315.5 130.6 315.7C129.3 315.9 128 316.1 126.6 316.3C125.3 316.5 124 316.6 122.6 316.8C121.3 316.9 120 317 118.6 317.2C117.3 317.3 115.9 317.4 114.6 317.5C113.3 317.5 111.9 317.6 110.6 317.6C109.2 317.7 107.9 317.7 106.5 317.7C105.2 317.7 103.9 317.7 102.5 317.6C101.2 317.6 99.8 317.4 98.5 317.4C97.1 317.4 95.1 317.5 94.4 317.5" fill="none" stroke="#e17c38" stroke-width="1.9" stroke-linejoin="round" stroke-linecap="round"/>
<path d="M94.4 291.2C94.7 290.5 95.4 288.4 96.1 287.2C96.8 285.9 97.7 284.8 98.5 283.8C99.4 282.7 100.3 281.8 101.3 280.9C102.2 280 103.2 279.2 104.3 278.5C105.4 277.7 106.5 277 107.6 276.4C108.8 275.8 109.9 275.2 111.1 274.6C112.3 274.1 113.6 273.6 114.8 273.1C116.1 272.7 117.4 272.2 118.7 271.8C119.9 271.4 121.2 271 122.5 270.6C123.8 270.2 125.2 269.8 126.5 269.5C127.8 269.1 129.1 268.7 130.4 268.3C131.7 268 133 267.6 134.3 267.2C135.6 266.8 136.9 266.5 138.3 266.1C139.6 265.8 140.9 265.4 142.2 265C143.5 264.7 144.8 264.3 146.1 264C147.4 263.6 148.7 263.3 150.1 262.9C151.4 262.6 152.7 262.3 154 261.9C155.3 261.6 156.6 261.2 157.9 260.9C159.2 260.6 160.6 260.2 161.9 259.9C163.2 259.6 164.5 259.3 165.8 258.9C167.1 258.6 168.5 258.3 169.8 258C171.1 257.7 172.4 257.4 173.7 257C175 256.7 176.4 256.4 177.7 256.1C179 255.8 180.3 255.5 181.6 255.2C183 254.9 184.3 254.6 185.6 254.3C186.9 254 188.2 253.7 189.6 253.5C190.9 253.2 192.2 252.9 193.5 252.6C194.8 252.3 196.2 252 197.5 251.8C198.8 251.5 200.1 251.2 201.5 250.9C202.8 250.7 204.1 250.4 205.4 250.1C206.8 249.9 208.1 249.6 209.4 249.4C210.7 249.1 212.1 248.9 213.4 248.6C214.7 248.3 216.1 248.1 217.4 247.9C218.7 247.6 220 247.4 221.4 247.1C222.7 246.9 224 246.6 225.4 246.4C226.7 246.2 228 245.9 229.4 245.7C230.7 245.5 232 245.2 233.4 245C234.7 244.8 236 244.5 237.4 244.3C238.7 244.1 240 243.9 241.4 243.6C242.7 243.4 244 243.2 245.4 243C246.7 242.8 248 242.5 249.4 242.3C250.7 242.1 252 241.9 253.4 241.7C254.7 241.5 256 241.2 257.4 241C258.7 240.8 260 240.6 261.4 240.4C262.7 240.2 264 240 265.4 239.7C266.7 239.5 268 239.3 269.4 239.1C270.7 238.9 272.1 238.7 273.4 238.5C274.7 238.3 276.1 238 277.4 237.8C278.7 237.6 280.1 237.4 281.4 237.2C282.7 237 284.1 236.8 285.4 236.6C286.7 236.3 288.1 236.1 289.4 235.9C290.7 235.7 292.1 235.5 293.4 235.3C294.7 235 296.1 234.8 297.4 234.6C298.7 234.4 300.1 234.2 301.4 233.9C302.7 233.7 304.1 233.5 305.4 233.3C306.7 233 308.1 232.8 309.4 232.6C310.7 232.4 312.1 232.1 313.4 231.9C314.7 231.7 316 231.4 317.4 231.2C318.7 231 320 230.7 321.4 230.5C322.7 230.2 324 230 325.3 229.8C326.7 229.5 328 229.3 329.3 229C330.7 228.8 332 228.5 333.3 228.3C334.6 228 336 227.8 337.3 227.5C338.6 227.3 339.9 227 341.3 226.7C342.6 226.5 343.9 226.2 345.2 226C346.6 225.7 347.9 225.4 349.2 225.2C350.5 224.9 351.8 224.6 353.2 224.4C354.5 224.1 355.8 223.8 357.1 223.5C358.5 223.3 359.8 223 361.1 222.7C362.4 222.4 363.7 222.2 365.1 221.9C366.4 221.6 367.7 221.3 369 221C370.4 220.7 371.7 220.5 373 220.2C374.3 219.9 375.6 219.6 377 219.3C378.3 219 379.6 218.7 380.9 218.4C382.2 218.1 383.5 217.8 384.9 217.5C386.2 217.2 387.5 216.9 388.8 216.6C390.1 216.3 391.5 216 392.8 215.7C394.1 215.4 395.4 215.1 396.7 214.8C398.1 214.5 399.4 214.2 400.7 213.9C402 213.6 403.3 213.3 404.6 213C406 212.7 407.3 212.3 408.6 212C409.9 211.7 411.2 211.4 412.6 211.1C413.9 210.8 415.2 210.5 416.5 210.2C417.8 209.9 419.1 209.5 420.5 209.2C421.8 208.9 423.1 208.6 424.4 208.3C425.7 208 427.1 207.7 428.4 207.4C429.7 207.1 431 206.8 432.3 206.5C433.6 206.1 435 205.8 436.3 205.5C437.6 205.2 438.9 204.9 440.2 204.6C441.6 204.3 442.9 204 444.2 203.7C445.5 203.4 446.8 203.1 448.2 202.8C449.5 202.5 450.8 202.2 452.1 201.9C453.4 201.6 454.8 201.3 456.1 201.1C457.4 200.8 458.7 200.5 460.1 200.2C461.4 199.9 462.7 199.6 464 199.3C465.3 199.1 466.7 198.8 468 198.5C469.3 198.2 470.6 198 472 197.7C473.3 197.4 474.6 197.1 475.9 196.9C477.3 196.6 478.6 196.4 479.9 196.1C481.3 195.8 482.6 195.6 483.9 195.3C485.2 195.1 486.6 194.8 487.9 194.6C489.2 194.3 490.5 194.1 491.9 193.9C493.2 193.6 494.5 193.4 495.9 193.2C497.2 192.9 498.5 192.7 499.9 192.5C501.2 192.3 502.5 192.1 503.9 191.8C505.2 191.6 506.5 191.4 507.9 191.2C509.2 191 510.5 190.8 511.9 190.6C513.2 190.4 514.5 190.2 515.9 190C517.2 189.9 518.6 189.7 519.9 189.5C521.2 189.3 522.6 189.1 523.9 189C525.2 188.8 526.6 188.6 527.9 188.5C529.3 188.3 530.6 188.1 531.9 188C533.3 187.8 534.6 187.7 536 187.5C537.3 187.4 538.7 187.2 540 187.1C541.3 186.9 542.7 186.8 544 186.6C545.4 186.5 546.7 186.4 548.1 186.2C549.4 186.1 550.7 186 552.1 185.8C553.4 185.7 554.8 185.6 556.1 185.5C557.5 185.4 558.8 185.2 560.2 185.1C561.5 185 562.9 184.9 564.2 184.8C565.6 184.7 566.9 184.6 568.2 184.5C569.6 184.4 570.9 184.3 572.3 184.2C573.6 184.1 575 184 576.3 183.9C577.7 183.8 579 183.7 580.4 183.6C581.7 183.5 583.1 183.5 584.4 183.4C585.8 183.3 587.1 183.2 588.5 183.1C589.8 183.1 591.2 183 592.5 182.9C593.9 182.8 595.2 182.8 596.6 182.7C597.9 182.6 599.3 182.6 600.6 182.5C602 182.4 603.3 182.4 604.7 182.3C606 182.3 607.4 182.2 608.7 182.1C610.1 182.1 611.5 182 612.8 182C614.2 181.9 615.5 181.9 616.9 181.8C618.2 181.8 619.6 181.7 620.9 181.7C622.3 181.6 623.6 181.7 625 181.5C626.3 181.4 628.3 181.1 629 181M629 181C628.6 181.5 627.3 183.2 626.4 184.3C625.5 185.3 624.5 186.3 623.5 187.3C622.5 188.2 621.5 189.1 620.4 189.9C619.4 190.8 618.3 191.6 617.2 192.3C616.1 193.1 615 193.8 613.9 194.5C612.8 195.2 611.6 195.8 610.5 196.5C609.3 197.1 608.1 197.7 606.9 198.2C605.7 198.8 604.5 199.3 603.3 199.8C602 200.3 600.8 200.8 599.6 201.3C598.3 201.7 597.1 202.2 595.8 202.6C594.5 203 593.3 203.4 592 203.8C590.7 204.2 589.4 204.6 588.1 205C586.9 205.3 585.6 205.7 584.3 206.1C583 206.4 581.7 206.8 580.4 207.1C579.1 207.4 577.8 207.8 576.5 208.1C575.2 208.4 573.9 208.7 572.6 209C571.3 209.3 570 209.6 568.7 209.9C567.4 210.2 566.1 210.5 564.7 210.8C563.4 211 562.1 211.3 560.8 211.6C559.5 211.8 558.1 212.1 556.8 212.3C555.5 212.6 554.2 212.8 552.8 213C551.5 213.3 550.2 213.5 548.9 213.7C547.5 213.9 546.2 214.1 544.9 214.4C543.5 214.6 542.2 214.8 540.9 215C539.5 215.2 538.2 215.4 536.8 215.5C535.5 215.7 534.2 215.9 532.8 216.1C531.5 216.3 530.1 216.5 528.8 216.6C527.5 216.8 526.1 217 524.8 217.1C523.4 217.3 522.1 217.5 520.7 217.6C519.4 217.8 518 217.9 516.7 218.1C515.4 218.2 514 218.4 512.7 218.5C511.3 218.7 510 218.8 508.6 218.9C507.3 219.1 505.9 219.2 504.6 219.4C503.3 219.5 501.9 219.6 500.6 219.8C499.2 219.9 497.9 220 496.5 220.2C495.2 220.3 493.9 220.4 492.5 220.5C491.2 220.7 489.8 220.8 488.5 220.9C487.2 221.1 485.8 221.2 484.5 221.3C483.1 221.4 481.8 221.6 480.5 221.7C479.1 221.8 477.8 221.9 476.4 222.1C475.1 222.2 473.8 222.3 472.4 222.4C471.1 222.5 469.8 222.7 468.4 222.8C467.1 222.9 465.7 223 464.4 223.2C463.1 223.3 461.7 223.4 460.4 223.5C459.1 223.7 457.7 223.8 456.4 223.9C455.1 224.1 453.7 224.2 452.4 224.3C451.1 224.4 449.7 224.6 448.4 224.7C447.1 224.8 445.7 225 444.4 225.1C443.1 225.2 441.7 225.4 440.4 225.5C439 225.6 437.7 225.8 436.4 225.9C435 226.1 433.7 226.2 432.4 226.3C431 226.5 429.7 226.6 428.4 226.8C427 226.9 425.7 227.1 424.4 227.2C423 227.4 421.7 227.5 420.4 227.7C419 227.9 417.7 228 416.4 228.2C415 228.3 413.7 228.5 412.4 228.7C411 228.9 409.7 229 408.4 229.2C407.1 229.4 405.7 229.6 404.4 229.8C403.1 230 401.7 230.2 400.4 230.5C399.1 230.7 397.8 230.9 396.5 231.2C395.2 231.4 393.8 231.7 392.5 232C391.2 232.2 389.9 232.5 388.6 232.9C387.3 233.2 386 233.5 384.8 233.8C383.5 234.2 382.2 234.5 380.9 234.9C379.6 235.3 378.3 235.7 377.1 236.1C375.8 236.5 374.5 237 373.3 237.4C372 237.9 370.8 238.3 369.5 238.8C368.3 239.3 367 239.8 365.8 240.2C364.5 240.7 363.3 241.2 362 241.7C360.8 242.2 359.5 242.8 358.3 243.3C357.1 243.8 355.8 244.3 354.6 244.8C353.3 245.3 352.1 245.8 350.8 246.4C349.6 246.9 348.4 247.4 347.1 247.9C345.9 248.4 344.6 248.9 343.4 249.4C342.1 249.9 340.9 250.4 339.6 250.8C338.4 251.3 337.1 251.8 335.8 252.2C334.6 252.7 333.3 253.2 332.1 253.6C330.8 254.1 329.5 254.5 328.3 255C327 255.4 325.7 255.8 324.4 256.2C323.2 256.7 321.9 257.1 320.6 257.5C319.3 257.9 318.1 258.3 316.8 258.7C315.5 259.1 314.2 259.5 312.9 259.9C311.7 260.3 310.4 260.7 309.1 261.1C307.8 261.5 306.5 261.8 305.2 262.2C303.9 262.6 302.6 262.9 301.3 263.3C300 263.7 298.7 264 297.4 264.4C296.1 264.7 294.8 265.1 293.5 265.4C292.2 265.8 290.9 266.1 289.6 266.4C288.3 266.8 287 267.1 285.7 267.4C284.4 267.7 283.1 268.1 281.8 268.4C280.5 268.7 279.2 269 277.8 269.3C276.5 269.6 275.2 269.9 273.9 270.2C272.6 270.5 271.3 270.8 270 271.1C268.6 271.4 267.3 271.7 266 272C264.7 272.3 263.4 272.6 262.1 272.9C260.7 273.2 259.4 273.4 258.1 273.7C256.8 274 255.5 274.3 254.2 274.6C252.8 274.8 251.5 275.1 250.2 275.4C248.9 275.6 247.6 275.9 246.2 276.2C244.9 276.4 243.6 276.7 242.3 277C241 277.2 239.6 277.5 238.3 277.7C237 278 235.7 278.2 234.4 278.5C233 278.8 231.7 279 230.4 279.3C229.1 279.5 227.8 279.8 226.4 280C225.1 280.2 223.8 280.5 222.5 280.7C221.2 281 219.8 281.2 218.5 281.4C217.2 281.7 215.9 281.9 214.6 282.1C213.2 282.3 211.9 282.6 210.6 282.8C209.3 283 208 283.2 206.6 283.4C205.3 283.6 204 283.8 202.7 284C201.4 284.2 200 284.4 198.7 284.6C197.4 284.8 196.1 285 194.7 285.2C193.4 285.4 192.1 285.5 190.8 285.7C189.4 285.9 188.1 286 186.8 286.2C185.4 286.4 184.1 286.5 182.8 286.6C181.4 286.8 180.1 286.9 178.8 287.1C177.4 287.2 176.1 287.3 174.8 287.4C173.4 287.5 172.1 287.6 170.8 287.7C169.4 287.8 168.1 287.9 166.8 288C165.4 288.1 164.1 288.2 162.7 288.3C161.4 288.3 160 288.4 158.7 288.4C157.3 288.5 156 288.5 154.7 288.6C153.3 288.6 152 288.6 150.6 288.7C149.3 288.7 147.9 288.7 146.6 288.7C145.2 288.8 143.9 288.8 142.5 288.8C141.1 288.8 139.8 288.9 138.4 288.9C137.1 288.9 135.7 289 134.4 289C133 289 131.7 289.1 130.3 289.1C129 289.2 127.6 289.2 126.3 289.3C125 289.4 123.6 289.4 122.3 289.5C120.9 289.6 119.6 289.7 118.2 289.8C116.9 289.9 115.6 290.1 114.2 290.2C112.9 290.3 111.6 290.5 110.2 290.7C108.9 290.9 107.6 291 106.2 291.3C104.9 291.5 103.6 291.7 102.3 292C101 292.2 99.6 292.5 98.3 292.8C97 293.1 95.1 293.6 94.4 293.8" fill="none" stroke="#a3a3a3" stroke-width="1.9" stroke-linejoin="round" stroke-linecap="round"/>
<path d="M94.4 298.2C95 297.9 96.7 296.8 97.9 296.2C99.1 295.6 100.3 295 101.5 294.5C102.8 293.9 104 293.3 105.2 292.8C106.4 292.2 107.7 291.7 108.9 291.2C110.1 290.7 111.4 290.1 112.6 289.6C113.9 289.1 115.1 288.6 116.4 288.1C117.6 287.7 118.9 287.2 120.1 286.7C121.4 286.2 122.6 285.8 123.9 285.3C125.2 284.9 126.4 284.4 127.7 284C129 283.6 130.2 283.1 131.5 282.7C132.8 282.3 134.1 281.9 135.3 281.5C136.6 281.1 137.9 280.7 139.2 280.3C140.5 280 141.8 279.6 143 279.2C144.3 278.9 145.6 278.5 146.9 278.2C148.2 277.8 149.5 277.5 150.8 277.2C152.1 276.8 153.4 276.5 154.7 276.2C156 275.9 157.3 275.6 158.6 275.3C160 275 161.3 274.7 162.6 274.4C163.9 274.1 165.2 273.8 166.5 273.6C167.8 273.3 169.2 273.1 170.5 272.8C171.8 272.6 173.1 272.3 174.4 272.1C175.8 271.8 177.1 271.6 178.4 271.4C179.7 271.2 181.1 271 182.4 270.7C183.7 270.5 185.1 270.3 186.4 270.1C187.7 270 189 269.8 190.4 269.6C191.7 269.4 193 269.2 194.4 269.1C195.7 268.9 197.1 268.7 198.4 268.6C199.7 268.4 201.1 268.3 202.4 268.2C203.7 268 205.1 267.9 206.4 267.8C207.8 267.6 209.1 267.5 210.4 267.4C211.8 267.3 213.1 267.2 214.5 267.1C215.8 267 217.2 266.9 218.5 266.8C219.8 266.7 221.2 266.6 222.5 266.5C223.9 266.4 225.2 266.4 226.5 266.3C227.9 266.2 229.2 266.1 230.6 266.1C231.9 266 233.3 265.9 234.6 265.8C235.9 265.8 237.3 265.7 238.6 265.6C240 265.6 241.3 265.5 242.7 265.4C244 265.3 245.3 265.3 246.7 265.2C248 265.1 249.4 265 250.7 265C252 264.9 253.4 264.8 254.7 264.7C256.1 264.6 257.4 264.6 258.7 264.5C260.1 264.4 261.4 264.3 262.8 264.2C264.1 264.1 265.4 264 266.8 263.8C268.1 263.7 269.4 263.6 270.8 263.5C272.1 263.4 273.4 263.2 274.8 263.1C276.1 262.9 277.4 262.8 278.8 262.6C280.1 262.5 281.4 262.3 282.7 262.1C284.1 262 285.4 261.8 286.7 261.6C288 261.4 289.4 261.2 290.7 261C292 260.7 293.3 260.5 294.6 260.3C296 260 297.3 259.8 298.6 259.5C299.9 259.3 301.2 259 302.5 258.7C303.9 258.4 305.2 258.1 306.5 257.8C307.8 257.4 309.1 257.1 310.4 256.7C311.7 256.4 313 256 314.3 255.6C315.6 255.3 316.9 254.9 318.2 254.4C319.5 254 320.8 253.6 322.1 253.1C323.4 252.7 324.7 252.2 325.9 251.7C327.2 251.2 328.5 250.7 329.7 250.1C330.9 249.6 332.2 249 333.4 248.4C334.5 247.8 335.7 247.2 336.9 246.5C338 245.8 339.1 245.2 340.2 244.4C341.3 243.7 342.4 243 343.4 242.2C344.4 241.4 345.4 240.6 346.3 239.7C347.3 238.8 348.2 237.9 349 237C349.9 236 350.7 235.1 351.5 234C352.2 233 352.9 231.9 353.6 230.8C354.2 229.7 354.8 228.5 355.3 227.3C355.9 226.1 356.3 224.9 356.8 223.6C357.2 222.3 357.6 221 357.9 219.7C358.3 218.3 358.6 217 358.9 215.6C359.2 214.2 359.5 212.8 359.8 211.4C360 210 360.3 208.6 360.5 207.2C360.8 205.7 361 204.3 361.3 202.9C361.5 201.5 361.8 200.1 362.1 198.7C362.3 197.3 362.6 196 362.9 194.6C363.2 193.3 363.6 191.9 363.9 190.6C364.2 189.3 364.6 188 364.9 186.7C365.2 185.4 365.6 184.1 366 182.8C366.3 181.5 366.7 180.2 367.1 178.9C367.4 177.7 367.8 176.4 368.2 175.1C368.6 173.9 369 172.6 369.4 171.4C369.8 170.1 370.1 168.9 370.5 167.7C370.9 166.4 371.3 165.2 371.7 163.9C372.1 162.7 372.5 161.5 372.9 160.2C373.2 159 373.6 157.7 374 156.5C374.4 155.3 374.8 154 375.1 152.8C375.5 151.5 375.9 150.3 376.3 149C376.6 147.8 377 146.5 377.3 145.2C377.7 143.9 378 142.7 378.4 141.4C378.7 140.1 379.1 138.8 379.4 137.5C379.7 136.2 380.1 134.9 380.4 133.5C380.7 132.2 381 130.9 381.3 129.5C381.6 128.1 381.9 126.8 382.1 125.4C382.4 124 382.7 122.6 383 121.2C383.2 119.7 383.5 118.3 383.7 116.8C383.9 115.4 384.2 113.9 384.4 112.5C384.7 111 384.9 109.6 385.2 108.2C385.5 106.7 385.8 105.3 386.2 104C386.6 102.6 387 101.3 387.5 100C387.9 98.8 388.5 97.6 389.1 96.4C389.7 95.3 390.4 94.2 391.2 93.3C391.9 92.4 392.8 91.4 393.7 90.9C394.6 90.3 395.6 89.9 396.6 89.9C397.6 89.9 398.6 90.4 399.5 91C400.5 91.6 401.5 92.6 402.4 93.5C403.3 94.5 404.2 95.7 405 96.7C405.8 97.8 406.6 99 407.3 100.1C408.1 101.2 408.7 102.4 409.4 103.5C410.1 104.7 410.7 105.8 411.3 107C412 108.2 412.6 109.4 413.2 110.5C413.8 111.7 414.4 112.9 415 114.1C415.7 115.3 416.3 116.4 417 117.6C417.6 118.8 418.3 120 419 121.2C419.7 122.3 420.4 123.5 421.1 124.7C421.9 125.8 422.6 127 423.3 128.1C424.1 129.3 424.9 130.4 425.6 131.6C426.4 132.7 427.2 133.8 428 135C428.8 136.1 429.6 137.2 430.5 138.3C431.3 139.4 432.2 140.5 433 141.5C433.9 142.6 434.8 143.7 435.7 144.7C436.6 145.7 437.5 146.8 438.4 147.8C439.3 148.8 440.2 149.8 441.2 150.7C442.1 151.7 443.1 152.7 444.1 153.6C445.1 154.5 446.1 155.4 447.1 156.3C448.1 157.2 449.1 158.1 450.1 158.9C451.2 159.7 452.2 160.6 453.3 161.4C454.3 162.1 455.4 162.9 456.5 163.6C457.6 164.4 458.7 165.1 459.8 165.8C460.9 166.5 462.1 167.1 463.2 167.7C464.4 168.4 465.5 169 466.7 169.5C467.9 170.1 469.1 170.7 470.2 171.2C471.4 171.7 472.6 172.2 473.9 172.7C475.1 173.2 476.3 173.7 477.5 174.1C478.8 174.5 480 175 481.3 175.3C482.5 175.7 483.8 176.1 485.1 176.5C486.3 176.8 487.6 177.2 488.9 177.5C490.2 177.8 491.5 178.1 492.8 178.4C494.1 178.7 495.4 179 496.7 179.3C498.1 179.5 499.4 179.8 500.7 180C502 180.2 503.4 180.5 504.7 180.7C506 180.9 507.4 181.1 508.7 181.3C510.1 181.4 511.4 181.6 512.8 181.8C514.1 181.9 515.5 182.1 516.9 182.2C518.2 182.4 519.6 182.5 521 182.7C522.3 182.8 523.7 182.9 525.1 183C526.4 183.1 527.8 183.3 529.2 183.4C530.5 183.5 531.9 183.6 533.3 183.7C534.6 183.8 536 183.9 537.4 184C538.8 184.1 540.1 184.1 541.5 184.2C542.9 184.3 544.2 184.4 545.6 184.5C546.9 184.6 548.3 184.7 549.7 184.8C551 184.9 552.4 185 553.7 185.1C555.1 185.2 556.4 185.3 557.7 185.4C559.1 185.5 560.4 185.5 561.8 185.6C563.1 185.7 564.4 185.8 565.8 185.9C567.1 186 568.4 186.1 569.8 186.1C571.1 186.2 572.4 186.3 573.8 186.3C575.1 186.4 576.4 186.4 577.7 186.5C579.1 186.5 580.4 186.6 581.7 186.6C583 186.6 584.4 186.6 585.7 186.6C587 186.6 588.3 186.6 589.6 186.6C591 186.6 592.3 186.5 593.6 186.5C594.9 186.4 596.2 186.4 597.5 186.3C598.9 186.2 600.2 186.1 601.5 186C602.8 185.9 604.1 185.7 605.4 185.6C606.8 185.4 608.1 185.3 609.4 185.1C610.7 184.9 612 184.7 613.4 184.4C614.7 184.2 616 183.9 617.3 183.6C618.7 183.4 620 183.1 621.3 182.7C622.6 182.4 624 182.1 625.3 181.7C626.6 181.2 628.4 180.3 629 180M629 180C628.5 180.5 627.2 182 626.2 183C625.3 184 624.3 185 623.3 186C622.3 186.9 621.3 187.9 620.3 188.7C619.2 189.6 618.2 190.4 617.1 191.2C616 192 615 192.8 613.8 193.5C612.7 194.2 611.6 194.9 610.5 195.6C609.3 196.3 608.2 196.9 607 197.5C605.8 198.1 604.6 198.7 603.4 199.2C602.2 199.7 601 200.2 599.8 200.7C598.6 201.2 597.3 201.7 596.1 202.1C594.8 202.5 593.6 203 592.3 203.4C591 203.7 589.8 204.1 588.5 204.5C587.2 204.8 585.9 205.1 584.6 205.4C583.3 205.8 582 206 580.6 206.3C579.3 206.6 578 206.9 576.7 207.1C575.3 207.4 574 207.6 572.7 207.8C571.3 208 570 208.2 568.6 208.4C567.3 208.6 565.9 208.8 564.6 209C563.2 209.2 561.9 209.4 560.5 209.5C559.2 209.7 557.8 209.9 556.5 210C555.1 210.2 553.8 210.3 552.4 210.5C551.1 210.7 549.7 210.8 548.4 211C547 211.1 545.7 211.3 544.4 211.4C543 211.6 541.7 211.7 540.4 211.9C539 212 537.7 212.2 536.3 212.3C535 212.5 533.7 212.6 532.4 212.8C531 212.9 529.7 213.1 528.4 213.2C527 213.4 525.7 213.5 524.4 213.7C523.1 213.9 521.7 214 520.4 214.2C519.1 214.3 517.8 214.5 516.5 214.7C515.1 214.8 513.8 215 512.5 215.2C511.2 215.4 509.8 215.5 508.5 215.7C507.2 215.9 505.9 216.1 504.6 216.3C503.2 216.5 501.9 216.7 500.6 216.9C499.3 217.1 498 217.3 496.6 217.5C495.3 217.7 494 217.9 492.7 218.1C491.4 218.3 490 218.5 488.7 218.7C487.4 218.9 486.1 219.1 484.7 219.3C483.4 219.5 482.1 219.7 480.7 219.9C479.4 220.1 478.1 220.3 476.7 220.4C475.4 220.6 474 220.7 472.7 220.9C471.3 221 470 221.1 468.6 221.2C467.2 221.3 465.9 221.4 464.5 221.5C463.2 221.6 461.8 221.7 460.4 221.8C459.1 221.9 457.7 221.9 456.3 222C455 222.2 453.6 222.3 452.3 222.4C450.9 222.5 449.6 222.7 448.2 222.9C446.9 223 445.6 223.3 444.3 223.5C442.9 223.8 441.6 224 440.3 224.4C439.1 224.7 437.8 225.1 436.5 225.5C435.3 225.9 434 226.4 432.8 226.9C431.6 227.4 430.3 228 429.2 228.6C428 229.2 426.8 229.8 425.6 230.5C424.5 231.1 423.4 231.8 422.3 232.6C421.2 233.3 420.1 234.1 419 234.9C418 235.8 416.9 236.6 415.9 237.5C414.9 238.4 414 239.3 413 240.2C412.1 241.2 411.2 242.2 410.3 243.2C409.4 244.2 408.5 245.2 407.7 246.3C406.9 247.3 406.1 248.4 405.4 249.5C404.6 250.6 403.9 251.7 403.2 252.9C402.5 254 401.9 255.2 401.3 256.4C400.7 257.6 400.1 258.8 399.5 260C399 261.2 398.4 262.5 397.9 263.7C397.4 265 397 266.3 396.5 267.6C396.1 268.8 395.6 270.1 395.2 271.4C394.8 272.7 394.5 274 394.1 275.4C393.7 276.7 393.4 278 393.1 279.3C392.7 280.7 392.4 282 392.1 283.3C391.8 284.7 391.5 286 391.2 287.4C391 288.7 390.7 290 390.4 291.4C390.2 292.7 389.9 294.1 389.7 295.4C389.4 296.7 389.2 298.1 389 299.4C388.7 300.7 388.5 302 388.3 303.3C388 304.6 387.8 306 387.6 307.3C387.4 308.6 387.1 309.9 386.9 311.2C386.7 312.4 386.5 313.7 386.2 315C386 316.3 385.8 317.6 385.6 318.9C385.3 320.2 385.1 321.5 384.9 322.7C384.6 324 384.4 325.3 384.2 326.6C383.9 327.9 383.7 329.2 383.4 330.4C383.2 331.7 382.9 333 382.6 334.3C382.4 335.6 382.1 336.9 381.8 338.2C381.6 339.5 381.3 340.8 381 342.1C380.7 343.4 380.4 344.7 380.1 346C379.8 347.3 379.5 348.6 379.1 350C378.8 351.3 378.5 352.6 378.1 353.9C377.8 355.3 377.4 356.6 377 358C376.7 359.3 376.3 360.7 375.9 362.1C375.5 363.4 375.1 364.8 374.6 366.2C374.2 367.6 373.8 369 373.3 370.4C372.8 371.8 372.4 373.2 371.9 374.6C371.4 376 370.9 377.4 370.3 378.7C369.7 380 369.2 381.2 368.5 382.3C367.9 383.4 367.2 384.4 366.5 385.2C365.7 385.9 364.9 386.6 364 386.9C363.2 387.3 362.2 387.5 361.2 387.4C360.2 387.3 359.1 386.9 358.1 386.3C357 385.8 355.9 385 355 384.1C354 383.3 353.2 382.2 352.4 381.2C351.6 380.1 350.9 378.9 350.3 377.8C349.6 376.6 349 375.3 348.4 374C347.8 372.7 347.3 371.4 346.7 370.1C346.1 368.8 345.5 367.6 344.9 366.3C344.3 365 343.6 363.8 343 362.5C342.4 361.3 341.7 360 341 358.8C340.3 357.6 339.6 356.4 338.9 355.2C338.2 354.1 337.5 352.9 336.7 351.7C336 350.6 335.2 349.4 334.4 348.3C333.7 347.2 332.9 346.1 332 345C331.2 343.9 330.4 342.9 329.6 341.8C328.7 340.7 327.9 339.7 327 338.7C326.1 337.7 325.2 336.6 324.3 335.7C323.4 334.7 322.5 333.7 321.6 332.7C320.6 331.8 319.7 330.8 318.7 329.9C317.7 329 316.8 328.1 315.8 327.2C314.8 326.3 313.8 325.4 312.8 324.6C311.7 323.7 310.7 322.9 309.7 322.1C308.6 321.3 307.6 320.5 306.5 319.7C305.4 318.9 304.3 318.2 303.2 317.4C302.1 316.7 301 316 299.9 315.3C298.7 314.5 297.6 313.9 296.5 313.2C295.3 312.5 294.1 311.9 293 311.3C291.8 310.6 290.6 310 289.4 309.4C288.2 308.8 287 308.3 285.8 307.7C284.6 307.1 283.4 306.6 282.1 306.1C280.9 305.6 279.7 305.1 278.4 304.6C277.2 304.1 275.9 303.7 274.6 303.2C273.4 302.8 272.1 302.3 270.8 301.9C269.5 301.5 268.3 301.1 267 300.8C265.7 300.4 264.4 300 263.1 299.7C261.8 299.4 260.5 299 259.2 298.7C257.8 298.4 256.5 298.2 255.2 297.9C253.9 297.6 252.6 297.4 251.2 297.2C249.9 296.9 248.6 296.7 247.2 296.5C245.9 296.3 244.6 296.2 243.3 296C241.9 295.8 240.6 295.7 239.2 295.6C237.9 295.4 236.6 295.3 235.2 295.3C233.9 295.2 232.6 295.1 231.2 295C229.9 295 228.5 294.9 227.2 294.9C225.9 294.9 224.5 294.9 223.2 294.8C221.8 294.8 220.5 294.9 219.2 294.9C217.8 294.9 216.5 294.9 215.1 294.9C213.8 295 212.5 295 211.1 295.1C209.8 295.1 208.4 295.2 207.1 295.3C205.8 295.3 204.4 295.4 203.1 295.5C201.7 295.5 200.4 295.6 199 295.7C197.7 295.8 196.4 295.9 195 295.9C193.7 296 192.3 296.1 191 296.2C189.6 296.3 188.3 296.4 186.9 296.4C185.6 296.5 184.3 296.6 182.9 296.7C181.6 296.8 180.2 296.8 178.9 296.9C177.5 297 176.2 297 174.9 297.1C173.5 297.1 172.2 297.2 170.8 297.2C169.5 297.3 168.1 297.3 166.8 297.3C165.4 297.3 164.1 297.3 162.8 297.3C161.4 297.3 160.1 297.3 158.7 297.3C157.4 297.3 156 297.3 154.7 297.2C153.4 297.2 152 297.1 150.7 297.1C149.3 297 148 296.9 146.6 296.9C145.3 296.8 144 296.7 142.6 296.7C141.3 296.6 139.9 296.5 138.6 296.5C137.2 296.4 135.9 296.3 134.6 296.3C133.2 296.2 131.9 296.2 130.5 296.1C129.2 296.1 127.8 296 126.5 296C125.2 296 123.8 296 122.5 296C121.1 296 119.8 296 118.5 296C117.1 296.1 115.8 296.1 114.5 296.2C113.1 296.2 111.8 296.3 110.4 296.4C109.1 296.6 107.8 296.7 106.4 296.8C105.1 297 103.7 297.2 102.4 297.4C101.1 297.6 99.7 297.9 98.4 298.1C97.1 298.4 95.1 298.9 94.4 299" fill="none" stroke="#f4bc18" stroke-width="1.9" stroke-linejoin="round" stroke-linecap="round"/>
<path d="M94.4 302.6C95 302.3 96.5 301.2 97.7 300.6C98.9 300 100.2 299.5 101.5 298.9C102.8 298.3 104 297.8 105.3 297.3C106.6 296.7 107.8 296.2 109.1 295.7C110.4 295.2 111.6 294.7 112.9 294.2C114.2 293.7 115.4 293.3 116.7 292.8C118 292.3 119.3 291.9 120.5 291.4C121.8 291 123.1 290.6 124.4 290.1C125.7 289.7 126.9 289.3 128.2 288.9C129.5 288.5 130.8 288.1 132.1 287.7C133.4 287.4 134.6 287 135.9 286.6C137.2 286.3 138.5 285.9 139.8 285.6C141.1 285.2 142.4 284.9 143.7 284.6C145 284.3 146.3 283.9 147.6 283.6C148.9 283.3 150.2 283 151.5 282.7C152.8 282.4 154.1 282.1 155.4 281.9C156.7 281.6 158 281.3 159.3 281.1C160.6 280.8 161.9 280.5 163.2 280.3C164.5 280 165.8 279.8 167.1 279.6C168.4 279.3 169.7 279.1 171 278.9C172.4 278.6 173.7 278.4 175 278.2C176.3 278 177.6 277.8 178.9 277.6C180.2 277.4 181.6 277.2 182.9 277C184.2 276.8 185.5 276.6 186.8 276.4C188.2 276.2 189.5 276 190.8 275.9C192.1 275.7 193.5 275.5 194.8 275.4C196.1 275.2 197.4 275 198.8 274.9C200.1 274.7 201.4 274.5 202.8 274.4C204.1 274.2 205.4 274.1 206.7 273.9C208.1 273.8 209.4 273.6 210.7 273.5C212.1 273.3 213.4 273.2 214.8 273C216.1 272.9 217.4 272.8 218.8 272.6C220.1 272.5 221.4 272.3 222.8 272.2C224.1 272.1 225.5 271.9 226.8 271.8C228.2 271.7 229.5 271.5 230.8 271.4C232.2 271.3 233.5 271.1 234.9 271C236.2 270.9 237.6 270.7 238.9 270.6C240.3 270.5 241.6 270.3 243 270.2C244.3 270 245.7 269.9 247 269.8C248.4 269.6 249.7 269.5 251.1 269.3C252.4 269.2 253.8 269.1 255.1 268.9C256.5 268.8 257.8 268.6 259.2 268.5C260.6 268.3 261.9 268.2 263.3 268C264.6 267.9 266 267.7 267.3 267.5C268.7 267.4 270.1 267.2 271.4 267C272.8 266.9 274.1 266.7 275.5 266.5C276.9 266.4 278.2 266.2 279.6 266C281 265.8 282.3 265.6 283.7 265.4C285 265.2 286.4 265 287.8 264.8C289.1 264.6 290.5 264.4 291.8 264.1C293.2 263.9 294.5 263.7 295.8 263.4C297.2 263.1 298.5 262.9 299.8 262.6C301.2 262.3 302.5 262 303.8 261.7C305.1 261.4 306.4 261.1 307.7 260.7C309 260.4 310.3 260 311.5 259.6C312.8 259.2 314.1 258.8 315.3 258.4C316.6 258 317.8 257.5 319 257.1C320.3 256.6 321.5 256.1 322.7 255.6C323.9 255.1 325.1 254.5 326.2 254C327.4 253.4 328.5 252.8 329.7 252.2C330.8 251.5 331.9 250.9 333 250.2C334.1 249.5 335.2 248.8 336.2 248.1C337.3 247.3 338.3 246.6 339.3 245.8C340.4 244.9 341.4 244.1 342.3 243.2C343.3 242.4 344.3 241.5 345.2 240.6C346.2 239.6 347.1 238.7 348 237.7C348.9 236.7 349.8 235.7 350.7 234.7C351.6 233.7 352.4 232.7 353.3 231.6C354.1 230.6 355 229.5 355.8 228.4C356.7 227.4 357.5 226.3 358.3 225.2C359.1 224 359.9 222.9 360.7 221.8C361.5 220.7 362.3 219.5 363.1 218.4C363.9 217.3 364.7 216.1 365.4 215C366.2 213.8 367 212.7 367.8 211.6C368.5 210.4 369.3 209.3 370.1 208.1C370.9 207 371.6 205.8 372.4 204.7C373.2 203.6 374 202.5 374.8 201.4C375.6 200.3 376.4 199.2 377.2 198.1C378 197 378.8 195.9 379.7 194.8C380.5 193.8 381.3 192.7 382.2 191.7C383.1 190.7 383.9 189.7 384.8 188.7C385.7 187.7 386.7 186.8 387.6 185.9C388.5 184.9 389.5 184 390.5 183.1C391.5 182.3 392.5 181.4 393.5 180.6C394.5 179.8 395.6 179 396.7 178.2C397.7 177.5 398.9 176.8 400 176.1C401.1 175.4 402.3 174.7 403.4 174.1C404.6 173.5 405.8 172.9 407 172.3C408.2 171.8 409.4 171.3 410.6 170.8C411.8 170.3 413.1 169.9 414.3 169.4C415.6 169 416.9 168.7 418.2 168.3C419.4 168 420.7 167.7 422 167.4C423.3 167.2 424.6 166.9 425.9 166.7C427.3 166.5 428.6 166.3 429.9 166.2C431.2 166.1 432.6 165.9 433.9 165.9C435.3 165.8 436.6 165.7 437.9 165.7C439.3 165.6 440.7 165.6 442 165.7C443.4 165.7 444.7 165.7 446.1 165.8C447.4 165.8 448.8 165.9 450.2 166C451.5 166.1 452.9 166.3 454.2 166.4C455.6 166.5 457 166.7 458.3 166.9C459.7 167.1 461 167.3 462.4 167.5C463.7 167.7 465.1 167.9 466.4 168.1C467.7 168.4 469.1 168.6 470.4 168.9C471.7 169.1 473 169.4 474.4 169.7C475.7 169.9 477 170.2 478.3 170.5C479.6 170.8 480.9 171.1 482.3 171.4C483.6 171.8 484.9 172.1 486.2 172.4C487.5 172.7 488.8 173.1 490.1 173.4C491.4 173.8 492.7 174.1 494 174.5C495.3 174.8 496.5 175.2 497.8 175.5C499.1 175.9 500.4 176.2 501.7 176.6C503 177 504.3 177.3 505.6 177.7C506.9 178.1 508.1 178.4 509.4 178.8C510.7 179.2 512 179.5 513.3 179.9C514.6 180.3 515.9 180.6 517.1 181C518.4 181.3 519.7 181.7 521 182C522.3 182.4 523.6 182.7 524.9 183.1C526.2 183.4 527.5 183.8 528.8 184.1C530 184.4 531.3 184.7 532.6 185.1C533.9 185.4 535.2 185.7 536.5 186C537.9 186.3 539.2 186.6 540.5 186.8C541.8 187.1 543.1 187.4 544.4 187.6C545.7 187.9 547 188.2 548.4 188.4C549.7 188.6 551 188.8 552.4 189C553.7 189.3 555 189.5 556.4 189.6C557.7 189.8 559 190 560.4 190.2C561.7 190.3 563.1 190.5 564.4 190.6C565.8 190.8 567.1 190.9 568.5 191C569.8 191.1 571.2 191.3 572.5 191.4C573.9 191.5 575.2 191.6 576.6 191.7C578 191.7 579.3 191.8 580.7 191.9C582 192 583.4 192 584.7 192.1C586.1 192.2 587.5 192.2 588.8 192.3C590.2 192.3 591.5 192.4 592.9 192.4C594.2 192.4 595.6 192.5 597 192.5C598.3 192.5 599.7 192.6 601 192.6C602.4 192.6 603.7 192.6 605.1 192.6C606.4 192.7 607.7 192.7 609.1 192.7C610.4 192.7 611.8 192.7 613.1 192.7C614.4 192.7 615.8 192.7 617.1 192.7C618.4 192.7 619.7 192.7 621.1 192.7C622.4 192.7 623.7 192.8 625 192.8C626.3 192.7 628.3 192.5 629 192.4M629 192.4C628.4 192.8 626.8 194.1 625.6 194.8C624.5 195.5 623.2 195.9 622 196.4C620.7 196.9 619.5 197.3 618.3 197.8C617 198.3 615.8 198.8 614.5 199.2C613.3 199.7 612 200.1 610.7 200.5C609.5 200.9 608.2 201.4 606.9 201.7C605.6 202.1 604.4 202.5 603.1 202.9C601.8 203.3 600.5 203.6 599.2 204C597.9 204.3 596.6 204.7 595.3 205C594 205.3 592.7 205.7 591.4 206C590.1 206.3 588.8 206.6 587.4 206.8C586.1 207.1 584.8 207.4 583.5 207.7C582.1 207.9 580.8 208.2 579.5 208.4C578.1 208.7 576.8 208.9 575.5 209.1C574.1 209.3 572.8 209.6 571.5 209.8C570.1 210 568.8 210.1 567.4 210.3C566.1 210.5 564.7 210.7 563.4 210.9C562 211 560.7 211.2 559.3 211.3C558 211.5 556.6 211.6 555.3 211.7C553.9 211.9 552.5 212 551.2 212.1C549.8 212.2 548.5 212.3 547.1 212.4C545.8 212.5 544.4 212.6 543 212.7C541.7 212.8 540.3 212.9 539 212.9C537.6 213 536.2 213.1 534.9 213.1C533.5 213.2 532.2 213.2 530.8 213.2C529.5 213.3 528.1 213.3 526.8 213.3C525.4 213.4 524 213.4 522.7 213.4C521.3 213.4 520 213.4 518.6 213.5C517.3 213.5 515.9 213.5 514.6 213.5C513.2 213.5 511.9 213.5 510.6 213.5C509.2 213.5 507.9 213.5 506.5 213.5C505.2 213.5 503.8 213.5 502.5 213.5C501.1 213.5 499.8 213.5 498.4 213.4C497.1 213.4 495.8 213.4 494.4 213.4C493.1 213.5 491.7 213.5 490.4 213.5C489.1 213.5 487.7 213.5 486.4 213.5C485 213.5 483.7 213.5 482.4 213.6C481 213.6 479.7 213.6 478.3 213.6C477 213.7 475.7 213.7 474.3 213.8C473 213.8 471.6 213.9 470.3 214C469 214 467.6 214.1 466.3 214.2C465 214.3 463.6 214.4 462.3 214.5C460.9 214.6 459.6 214.7 458.3 214.8C456.9 214.9 455.6 215.1 454.3 215.2C452.9 215.4 451.6 215.6 450.2 215.7C448.9 215.9 447.6 216.1 446.2 216.3C444.9 216.5 443.5 216.7 442.2 217C440.9 217.2 439.5 217.5 438.2 217.7C436.9 218 435.5 218.3 434.2 218.6C432.8 218.9 431.5 219.2 430.2 219.6C428.9 219.9 427.5 220.3 426.2 220.6C424.9 221 423.6 221.4 422.3 221.8C421 222.3 419.7 222.7 418.5 223.2C417.2 223.7 415.9 224.1 414.7 224.7C413.4 225.2 412.2 225.7 411 226.3C409.8 226.9 408.6 227.5 407.4 228.1C406.2 228.7 405.1 229.4 403.9 230C402.8 230.7 401.7 231.4 400.6 232.2C399.5 232.9 398.4 233.7 397.4 234.5C396.3 235.3 395.3 236.1 394.3 236.9C393.3 237.8 392.4 238.7 391.4 239.6C390.5 240.6 389.6 241.5 388.7 242.5C387.9 243.5 387 244.6 386.2 245.6C385.4 246.7 384.7 247.8 384 248.9C383.2 250.1 382.5 251.2 381.8 252.4C381.2 253.6 380.5 254.8 379.9 256.1C379.2 257.3 378.6 258.5 378 259.8C377.4 261.1 376.9 262.3 376.3 263.6C375.7 264.9 375.1 266.1 374.6 267.4C374 268.6 373.5 269.9 372.9 271.2C372.3 272.4 371.8 273.7 371.2 274.9C370.7 276.1 370.1 277.4 369.6 278.6C369 279.8 368.5 281.1 368 282.3C367.4 283.5 366.9 284.8 366.4 286C365.8 287.2 365.3 288.4 364.8 289.7C364.3 290.9 363.7 292.1 363.2 293.3C362.7 294.5 362.2 295.8 361.7 297C361.2 298.2 360.7 299.5 360.2 300.7C359.7 301.9 359.2 303.2 358.8 304.4C358.3 305.6 357.8 306.9 357.3 308.1C356.9 309.4 356.4 310.6 356 311.9C355.5 313.2 355.1 314.4 354.6 315.7C354.2 317 353.8 318.3 353.3 319.5C352.9 320.8 352.5 322.1 352 323.4C351.6 324.7 351.2 326 350.7 327.3C350.3 328.6 349.8 329.8 349.3 331.1C348.9 332.4 348.4 333.7 347.9 334.9C347.4 336.2 346.8 337.5 346.3 338.7C345.8 339.9 345.2 341.2 344.6 342.4C344 343.6 343.4 344.8 342.7 346C342 347.2 341.4 348.4 340.6 349.5C339.9 350.7 339.1 351.8 338.3 352.9C337.5 354.1 336.7 355.2 335.8 356.2C334.9 357.3 333.9 358.3 332.9 359.2C331.8 360 330.7 360.7 329.5 361.2C328.3 361.6 326.9 361.8 325.7 361.8C324.4 361.7 323.1 361.3 322 360.8C320.8 360.3 319.7 359.6 318.5 358.9C317.4 358.1 316.4 357.3 315.3 356.5C314.2 355.7 313.2 354.9 312.2 354C311.1 353.1 310.1 352.2 309.1 351.3C308.1 350.4 307.2 349.4 306.2 348.5C305.2 347.5 304.2 346.5 303.3 345.6C302.3 344.6 301.4 343.6 300.4 342.6C299.5 341.6 298.5 340.6 297.6 339.6C296.6 338.6 295.7 337.6 294.7 336.6C293.8 335.6 292.8 334.6 291.8 333.6C290.9 332.6 289.9 331.7 288.9 330.7C287.9 329.8 286.9 328.9 285.9 328C284.9 327.1 283.9 326.2 282.8 325.4C281.8 324.5 280.7 323.7 279.6 322.9C278.5 322.1 277.5 321.4 276.4 320.6C275.2 319.9 274.1 319.2 273 318.5C271.9 317.8 270.7 317.1 269.6 316.5C268.4 315.8 267.2 315.2 266.1 314.6C264.9 314 263.7 313.4 262.5 312.9C261.3 312.3 260.1 311.8 258.9 311.2C257.6 310.7 256.4 310.2 255.2 309.7C253.9 309.3 252.7 308.8 251.4 308.4C250.2 307.9 248.9 307.5 247.6 307.1C246.3 306.7 245.1 306.3 243.8 306C242.5 305.6 241.2 305.3 239.9 304.9C238.6 304.6 237.3 304.3 235.9 304C234.6 303.7 233.3 303.4 232 303.2C230.7 302.9 229.3 302.6 228 302.4C226.7 302.2 225.3 302 224 301.8C222.6 301.6 221.3 301.4 219.9 301.2C218.6 301 217.2 300.8 215.9 300.7C214.5 300.5 213.2 300.4 211.8 300.3C210.5 300.2 209.1 300.1 207.7 299.9C206.4 299.8 205 299.8 203.7 299.7C202.3 299.6 201 299.5 199.6 299.5C198.2 299.4 196.9 299.4 195.5 299.3C194.2 299.3 192.8 299.3 191.5 299.2C190.1 299.2 188.8 299.2 187.4 299.2C186 299.2 184.7 299.2 183.3 299.2C182 299.2 180.6 299.2 179.3 299.3C177.9 299.3 176.6 299.3 175.2 299.3C173.9 299.4 172.5 299.4 171.2 299.5C169.8 299.5 168.5 299.6 167.2 299.6C165.8 299.7 164.5 299.7 163.1 299.8C161.8 299.8 160.4 299.9 159.1 300C157.7 300 156.4 300.1 155 300.2C153.7 300.3 152.3 300.3 151 300.4C149.6 300.5 148.3 300.6 147 300.6C145.6 300.7 144.3 300.8 142.9 300.9C141.6 300.9 140.2 301 138.9 301.1C137.5 301.2 136.2 301.2 134.8 301.3C133.5 301.4 132.2 301.4 130.8 301.5C129.5 301.6 128.1 301.6 126.8 301.7C125.4 301.8 124.1 301.8 122.7 301.9C121.4 301.9 120 302 118.7 302C117.3 302.1 116 302.1 114.6 302.1C113.3 302.2 111.9 302.2 110.6 302.2C109.2 302.3 107.9 302.3 106.5 302.3C105.2 302.3 103.8 302.3 102.5 302.3C101.1 302.3 99.8 302.2 98.4 302.2C97.1 302.3 95.1 302.5 94.4 302.6" fill="none" stroke="#4472c4" stroke-width="1.9" stroke-linejoin="round" stroke-linecap="round"/>
<path d="M94.4 295.6C95 295.3 96.7 294.3 97.9 293.7C99.1 293.1 100.4 292.6 101.7 292.1C103 291.6 104.2 291.1 105.5 290.6C106.8 290.1 108 289.6 109.3 289.1C110.5 288.6 111.8 288.1 113.1 287.6C114.4 287.1 115.6 286.7 116.9 286.2C118.2 285.8 119.4 285.3 120.7 284.9C122 284.4 123.3 284 124.5 283.5C125.8 283.1 127.1 282.7 128.4 282.3C129.7 281.9 130.9 281.4 132.2 281C133.5 280.6 134.8 280.2 136.1 279.9C137.4 279.5 138.7 279.1 139.9 278.7C141.2 278.3 142.5 278 143.8 277.6C145.1 277.2 146.4 276.9 147.7 276.5C149 276.2 150.3 275.8 151.6 275.5C152.9 275.2 154.2 274.8 155.5 274.5C156.8 274.2 158.1 273.9 159.4 273.6C160.7 273.2 162 272.9 163.3 272.6C164.6 272.3 165.9 272 167.2 271.7C168.5 271.5 169.9 271.2 171.2 270.9C172.5 270.6 173.8 270.3 175.1 270.1C176.4 269.8 177.7 269.5 179.1 269.3C180.4 269 181.7 268.7 183 268.5C184.3 268.2 185.6 268 187 267.8C188.3 267.5 189.6 267.3 190.9 267C192.3 266.8 193.6 266.6 194.9 266.4C196.2 266.1 197.6 265.9 198.9 265.7C200.2 265.5 201.6 265.3 202.9 265.1C204.2 264.8 205.6 264.6 206.9 264.4C208.2 264.2 209.6 264 210.9 263.9C212.2 263.7 213.6 263.5 214.9 263.3C216.2 263.1 217.6 262.9 218.9 262.7C220.3 262.6 221.6 262.4 222.9 262.2C224.3 262 225.6 261.9 227 261.7C228.3 261.5 229.7 261.4 231 261.2C232.4 261 233.7 260.9 235.1 260.7C236.4 260.6 237.8 260.4 239.1 260.2C240.5 260.1 241.8 259.9 243.2 259.8C244.5 259.6 245.9 259.5 247.2 259.4C248.6 259.2 249.9 259.1 251.3 258.9C252.7 258.8 254 258.7 255.4 258.5C256.7 258.4 258.1 258.2 259.5 258.1C260.8 258 262.2 257.8 263.5 257.7C264.9 257.6 266.3 257.5 267.6 257.3C269 257.2 270.4 257.1 271.7 256.9C273.1 256.8 274.5 256.7 275.8 256.6C277.2 256.4 278.6 256.3 279.9 256.2C281.3 256.1 282.7 255.9 284.1 255.8C285.4 255.7 286.8 255.6 288.2 255.4C289.5 255.3 290.9 255.1 292.2 255C293.6 254.8 295 254.7 296.3 254.5C297.7 254.3 299 254.2 300.4 254C301.7 253.8 303 253.6 304.4 253.4C305.7 253.1 307 252.9 308.3 252.7C309.6 252.4 311 252.1 312.3 251.9C313.6 251.6 314.8 251.3 316.1 251C317.4 250.6 318.7 250.3 319.9 249.9C321.2 249.5 322.5 249.2 323.7 248.7C324.9 248.3 326.2 247.9 327.4 247.4C328.6 246.9 329.8 246.5 331 245.9C332.2 245.4 333.3 244.8 334.5 244.3C335.6 243.7 336.8 243 337.9 242.4C339 241.7 340.1 241 341.2 240.3C342.3 239.6 343.4 238.8 344.5 238.1C345.5 237.3 346.6 236.5 347.6 235.6C348.7 234.8 349.7 233.9 350.7 233C351.7 232.2 352.7 231.3 353.7 230.3C354.7 229.4 355.7 228.5 356.7 227.6C357.7 226.6 358.7 225.7 359.7 224.7C360.7 223.7 361.6 222.8 362.6 221.8C363.6 220.8 364.6 219.8 365.5 218.9C366.5 217.9 367.5 216.9 368.5 216C369.5 215 370.5 214 371.5 213.1C372.5 212.1 373.4 211.2 374.5 210.3C375.5 209.4 376.5 208.4 377.5 207.6C378.5 206.7 379.6 205.8 380.6 204.9C381.7 204.1 382.7 203.3 383.8 202.5C384.9 201.7 385.9 200.9 387 200.1C388.1 199.4 389.2 198.7 390.4 198C391.5 197.3 392.6 196.6 393.8 195.9C394.9 195.3 396.1 194.6 397.2 194C398.4 193.4 399.6 192.8 400.8 192.3C401.9 191.7 403.1 191.1 404.3 190.6C405.6 190.1 406.8 189.6 408 189.1C409.2 188.6 410.5 188.2 411.7 187.7C412.9 187.3 414.2 186.8 415.5 186.4C416.7 186 418 185.6 419.3 185.3C420.5 184.9 421.8 184.5 423.1 184.2C424.4 183.9 425.7 183.5 427 183.2C428.3 182.9 429.6 182.6 430.9 182.4C432.2 182.1 433.6 181.8 434.9 181.6C436.2 181.4 437.5 181.1 438.9 180.9C440.2 180.7 441.6 180.5 442.9 180.3C444.2 180.1 445.6 180 447 179.8C448.3 179.6 449.7 179.5 451 179.4C452.4 179.2 453.7 179.1 455.1 179C456.5 178.9 457.8 178.8 459.2 178.7C460.6 178.6 462 178.5 463.3 178.4C464.7 178.4 466.1 178.3 467.5 178.3C468.8 178.2 470.2 178.2 471.6 178.1C473 178.1 474.4 178.1 475.7 178C477.1 178 478.5 178 479.9 178C481.2 178 482.6 178 484 178C485.4 178 486.8 178 488.1 178C489.5 178.1 490.9 178.1 492.2 178.1C493.6 178.1 495 178.2 496.3 178.2C497.7 178.2 499.1 178.3 500.4 178.3C501.8 178.3 503.1 178.4 504.5 178.4C505.8 178.5 507.2 178.5 508.5 178.6C509.9 178.6 511.2 178.7 512.6 178.7C513.9 178.8 515.3 178.9 516.6 178.9C517.9 179 519.3 179 520.6 179.1C521.9 179.2 523.3 179.2 524.6 179.3C525.9 179.4 527.3 179.5 528.6 179.5C529.9 179.6 531.2 179.7 532.6 179.7C533.9 179.8 535.2 179.9 536.6 180C537.9 180 539.2 180.1 540.5 180.2C541.9 180.3 543.2 180.4 544.5 180.4C545.8 180.5 547.2 180.6 548.5 180.7C549.8 180.8 551.1 180.8 552.5 180.9C553.8 181 555.1 181.1 556.5 181.2C557.8 181.3 559.1 181.3 560.5 181.4C561.8 181.5 563.1 181.6 564.5 181.7C565.8 181.7 567.2 181.8 568.5 181.9C569.8 182 571.2 182.1 572.5 182.1C573.9 182.2 575.2 182.3 576.6 182.4C577.9 182.5 579.3 182.5 580.7 182.6C582 182.7 583.4 182.7 584.7 182.8C586.1 182.8 587.5 182.9 588.8 182.9C590.2 183 591.5 183 592.9 183C594.3 183.1 595.6 183.1 597 183.1C598.4 183.1 599.7 183.1 601.1 183C602.4 183 603.8 183 605.1 182.9C606.5 182.8 607.8 182.7 609.2 182.6C610.5 182.5 611.9 182.4 613.2 182.3C614.6 182.1 615.9 182 617.2 181.8C618.6 181.6 619.9 181.3 621.2 181.1C622.5 180.9 623.9 180.6 625.2 180.3C626.5 179.9 628.4 179.2 629 179M629 179C628.6 179.5 627.3 181.2 626.4 182.2C625.5 183.3 624.4 184.2 623.4 185.1C622.4 186 621.3 186.9 620.3 187.7C619.2 188.6 618.2 189.4 617.1 190.2C616 190.9 614.9 191.7 613.8 192.4C612.7 193.2 611.6 193.8 610.5 194.5C609.3 195.2 608.2 195.8 607 196.4C605.9 197.1 604.7 197.6 603.5 198.2C602.3 198.8 601.1 199.3 599.9 199.8C598.7 200.3 597.5 200.8 596.3 201.3C595 201.8 593.8 202.2 592.6 202.6C591.3 203.1 590.1 203.5 588.8 203.9C587.5 204.3 586.2 204.6 585 205C583.7 205.3 582.4 205.7 581.1 206C579.8 206.3 578.5 206.6 577.2 206.9C575.9 207.2 574.6 207.4 573.2 207.7C571.9 207.9 570.6 208.2 569.3 208.4C567.9 208.6 566.6 208.9 565.2 209.1C563.9 209.3 562.5 209.5 561.2 209.6C559.8 209.8 558.5 210 557.1 210.2C555.8 210.3 554.4 210.5 553.1 210.7C551.7 210.8 550.3 211 549 211.1C547.6 211.2 546.2 211.4 544.9 211.5C543.5 211.6 542.1 211.8 540.8 211.9C539.4 212 538 212.1 536.7 212.3C535.3 212.4 534 212.5 532.6 212.6C531.2 212.7 529.9 212.9 528.5 213C527.2 213.1 525.8 213.2 524.5 213.3C523.1 213.5 521.7 213.6 520.4 213.7C519 213.8 517.7 214 516.4 214.1C515 214.2 513.7 214.4 512.3 214.5C511 214.6 509.6 214.7 508.3 214.9C507 215 505.6 215.1 504.3 215.3C503 215.4 501.6 215.5 500.3 215.7C499 215.8 497.6 215.9 496.3 216.1C495 216.2 493.6 216.4 492.3 216.5C491 216.6 489.6 216.8 488.3 216.9C487 217.1 485.7 217.2 484.3 217.3C483 217.5 481.7 217.6 480.4 217.8C479 217.9 477.7 218.1 476.4 218.2C475 218.3 473.7 218.5 472.4 218.6C471.1 218.8 469.7 218.9 468.4 219.1C467.1 219.2 465.8 219.4 464.4 219.5C463.1 219.7 461.8 219.8 460.5 220C459.1 220.1 457.8 220.3 456.5 220.4C455.2 220.6 453.8 220.7 452.5 220.9C451.2 221 449.9 221.2 448.5 221.3C447.2 221.5 445.9 221.6 444.5 221.8C443.2 221.9 441.9 222.1 440.5 222.3C439.2 222.4 437.9 222.6 436.5 222.7C435.2 222.9 433.9 223 432.5 223.2C431.2 223.3 429.8 223.5 428.5 223.7C427.2 223.8 425.8 224 424.5 224.1C423.1 224.3 421.8 224.5 420.4 224.6C419.1 224.8 417.7 224.9 416.4 225.1C415 225.3 413.7 225.5 412.4 225.7C411 225.9 409.7 226.1 408.4 226.4C407.1 226.7 405.8 226.9 404.5 227.3C403.2 227.6 401.9 227.9 400.6 228.3C399.3 228.7 398.1 229.2 396.9 229.7C395.6 230.2 394.4 230.7 393.2 231.3C392 231.9 390.9 232.6 389.7 233.3C388.6 234 387.5 234.7 386.4 235.5C385.3 236.4 384.2 237.2 383.1 238.1C382.1 239 381.1 239.9 380 240.9C379 241.8 378.1 242.8 377.1 243.8C376.2 244.8 375.2 245.8 374.3 246.9C373.4 247.9 372.5 248.9 371.6 250C370.8 251 369.9 252.1 369.1 253.1C368.3 254.2 367.5 255.2 366.7 256.3C365.9 257.4 365.2 258.4 364.4 259.5C363.7 260.6 363 261.7 362.3 262.8C361.5 263.9 360.9 265 360.2 266.2C359.5 267.3 358.8 268.4 358.2 269.5C357.5 270.7 356.9 271.8 356.3 273C355.7 274.1 355 275.3 354.4 276.5C353.8 277.6 353.2 278.8 352.7 280C352.1 281.2 351.5 282.4 351 283.6C350.4 284.8 349.8 286.1 349.3 287.3C348.7 288.5 348.2 289.8 347.6 291C347.1 292.3 346.6 293.6 346 294.8C345.5 296.1 345 297.4 344.4 298.7C343.9 300 343.4 301.3 342.9 302.6C342.3 303.9 341.8 305.2 341.2 306.5C340.7 307.8 340.1 309.1 339.5 310.4C338.9 311.7 338.3 312.9 337.7 314.2C337 315.4 336.4 316.6 335.7 317.7C335 318.9 334.2 320 333.4 321.1C332.7 322.2 331.8 323.2 331 324.2C330.1 325.1 329.2 326.1 328.2 326.9C327.2 327.8 326.1 328.5 325 329.2C323.9 329.9 322.8 330.6 321.6 331.1C320.4 331.6 319.2 332 317.9 332.3C316.7 332.5 315.4 332.7 314.2 332.7C312.9 332.7 311.6 332.6 310.3 332.3C309.1 332.1 307.8 331.7 306.5 331.3C305.3 330.8 304 330.3 302.8 329.7C301.5 329.1 300.3 328.4 299.1 327.7C297.9 327 296.7 326.2 295.6 325.4C294.4 324.7 293.3 323.8 292.2 323C291.1 322.2 290 321.4 288.9 320.5C287.8 319.7 286.8 318.9 285.7 318C284.7 317.2 283.6 316.3 282.5 315.5C281.5 314.7 280.4 313.9 279.4 313.1C278.3 312.3 277.2 311.5 276.1 310.8C275 310 273.9 309.3 272.8 308.6C271.7 307.9 270.5 307.3 269.4 306.6C268.2 306 267.1 305.4 265.9 304.8C264.7 304.3 263.5 303.7 262.3 303.2C261.1 302.7 259.9 302.2 258.7 301.7C257.4 301.3 256.2 300.8 254.9 300.4C253.7 300 252.4 299.6 251.1 299.2C249.9 298.8 248.6 298.5 247.3 298.1C246 297.8 244.7 297.5 243.4 297.2C242.1 296.9 240.7 296.6 239.4 296.4C238.1 296.1 236.8 295.9 235.4 295.6C234.1 295.4 232.7 295.2 231.4 295C230 294.8 228.7 294.6 227.3 294.5C226 294.3 224.6 294.2 223.2 294C221.9 293.9 220.5 293.7 219.1 293.6C217.8 293.5 216.4 293.4 215 293.3C213.7 293.2 212.3 293.1 210.9 293C209.6 293 208.2 292.9 206.8 292.8C205.4 292.8 204.1 292.7 202.7 292.6C201.3 292.6 200 292.5 198.6 292.5C197.2 292.4 195.9 292.4 194.5 292.3C193.2 292.3 191.8 292.3 190.5 292.2C189.1 292.2 187.8 292.2 186.4 292.2C185.1 292.1 183.7 292.1 182.4 292.1C181 292.1 179.7 292 178.4 292C177 292 175.7 292 174.4 292C173 292 171.7 292 170.4 292C169 292 167.7 292 166.4 292C165 292 163.7 292 162.4 292C161 292 159.7 292 158.4 292C157.1 292 155.7 292 154.4 292C153.1 292 151.7 292.1 150.4 292.1C149.1 292.1 147.8 292.1 146.4 292.1C145.1 292.1 143.8 292.2 142.5 292.2C141.1 292.2 139.8 292.2 138.5 292.3C137.2 292.3 135.8 292.3 134.5 292.3C133.2 292.4 131.8 292.4 130.5 292.4C129.2 292.4 127.8 292.5 126.5 292.5C125.2 292.5 123.8 292.5 122.5 292.6C121.2 292.6 119.8 292.6 118.5 292.6C117.2 292.7 115.8 292.7 114.5 292.7C113.1 292.7 111.8 292.8 110.4 292.8C109.1 292.8 107.8 292.8 106.4 292.9C105 292.9 103.7 292.9 102.3 292.9C101 293 99.6 292.9 98.3 293C96.9 293.2 95 293.7 94.4 293.8" fill="none" stroke="#70ad47" stroke-width="1.9" stroke-linejoin="round" stroke-linecap="round"/>
<path d="M94.4 297.3C94.9 296.9 96.5 295.6 97.7 294.9C98.8 294.1 99.9 293.4 101.1 292.6C102.2 291.9 103.4 291.2 104.5 290.5C105.7 289.8 106.9 289.2 108.1 288.5C109.2 287.9 110.4 287.2 111.6 286.6C112.8 286 114 285.4 115.2 284.8C116.4 284.3 117.6 283.7 118.9 283.2C120.1 282.6 121.3 282.1 122.5 281.6C123.8 281.1 125 280.6 126.3 280.1C127.5 279.6 128.8 279.1 130 278.6C131.3 278.2 132.5 277.7 133.8 277.3C135.1 276.9 136.4 276.5 137.6 276.1C138.9 275.6 140.2 275.3 141.5 274.9C142.8 274.5 144.1 274.1 145.3 273.8C146.6 273.4 147.9 273 149.2 272.7C150.5 272.4 151.8 272 153.2 271.7C154.5 271.4 155.8 271.1 157.1 270.8C158.4 270.5 159.7 270.2 161 269.9C162.3 269.6 163.7 269.3 165 269C166.3 268.8 167.6 268.5 169 268.2C170.3 268 171.6 267.7 172.9 267.5C174.3 267.2 175.6 267 176.9 266.8C178.3 266.5 179.6 266.3 180.9 266.1C182.2 265.8 183.6 265.6 184.9 265.4C186.2 265.2 187.6 265 188.9 264.8C190.3 264.5 191.6 264.3 192.9 264.1C194.3 263.9 195.6 263.7 196.9 263.5C198.3 263.3 199.6 263.1 200.9 262.9C202.3 262.7 203.6 262.5 205 262.3C206.3 262.1 207.6 261.9 209 261.8C210.3 261.6 211.7 261.4 213 261.2C214.3 261 215.7 260.8 217 260.6C218.3 260.4 219.7 260.2 221 260C222.3 259.8 223.7 259.6 225 259.4C226.4 259.2 227.7 259 229 258.8C230.4 258.6 231.7 258.3 233 258.1C234.3 257.9 235.7 257.7 237 257.5C238.3 257.2 239.7 257 241 256.8C242.3 256.5 243.6 256.3 245 256.1C246.3 255.8 247.6 255.6 248.9 255.3C250.2 255.1 251.6 254.8 252.9 254.5C254.2 254.3 255.5 254 256.8 253.7C258.1 253.4 259.4 253.1 260.7 252.8C262.1 252.5 263.4 252.2 264.7 251.9C266 251.6 267.3 251.3 268.6 250.9C269.9 250.6 271.2 250.3 272.5 249.9C273.8 249.6 275 249.2 276.3 248.8C277.6 248.5 278.9 248.1 280.2 247.7C281.5 247.3 282.7 246.9 284 246.5C285.3 246.1 286.6 245.6 287.8 245.2C289.1 244.7 290.3 244.3 291.6 243.8C292.9 243.3 294.1 242.8 295.3 242.3C296.6 241.8 297.8 241.3 299 240.8C300.3 240.2 301.5 239.7 302.7 239.1C303.9 238.5 305.1 238 306.3 237.4C307.5 236.7 308.7 236.1 309.8 235.5C311 234.8 312.2 234.2 313.3 233.5C314.5 232.8 315.6 232.1 316.8 231.4C317.9 230.6 319 229.9 320.1 229.1C321.2 228.4 322.3 227.6 323.4 226.8C324.5 226 325.6 225.2 326.7 224.4C327.8 223.6 328.9 222.8 330 222C331.1 221.2 332.2 220.4 333.3 219.6C334.4 218.8 335.4 218 336.5 217.2C337.6 216.4 338.8 215.6 339.9 214.9C341 214.1 342.1 213.3 343.2 212.6C344.4 211.9 345.5 211.2 346.7 210.5C347.8 209.8 349 209.2 350.2 208.6C351.4 207.9 352.6 207.3 353.8 206.8C355 206.2 356.2 205.6 357.4 205.1C358.7 204.6 359.9 204.1 361.1 203.6C362.4 203.1 363.6 202.6 364.9 202.2C366.1 201.8 367.4 201.4 368.7 201C369.9 200.6 371.2 200.2 372.5 199.9C373.8 199.5 375.1 199.2 376.4 198.9C377.7 198.6 379 198.3 380.3 198.1C381.6 197.8 382.9 197.5 384.2 197.3C385.5 197.1 386.8 196.9 388.2 196.7C389.5 196.5 390.8 196.3 392.2 196.1C393.5 195.9 394.8 195.8 396.2 195.6C397.5 195.5 398.9 195.3 400.2 195.2C401.5 195.1 402.9 195 404.2 194.9C405.6 194.8 407 194.7 408.3 194.6C409.7 194.5 411 194.4 412.4 194.4C413.7 194.3 415.1 194.2 416.5 194.2C417.8 194.1 419.2 194.1 420.6 194C421.9 194 423.3 193.9 424.7 193.9C426 193.8 427.4 193.8 428.7 193.7C430.1 193.7 431.5 193.7 432.8 193.6C434.2 193.6 435.6 193.5 436.9 193.5C438.3 193.5 439.7 193.4 441 193.4C442.4 193.3 443.7 193.3 445.1 193.2C446.4 193.2 447.8 193.1 449.1 193.1C450.5 193 451.8 192.9 453.2 192.8C454.5 192.8 455.9 192.7 457.2 192.6C458.6 192.5 459.9 192.4 461.2 192.3C462.6 192.2 463.9 192.1 465.2 192C466.6 191.9 467.9 191.8 469.2 191.7C470.6 191.6 471.9 191.5 473.2 191.4C474.6 191.3 475.9 191.2 477.2 191.1C478.6 191 479.9 190.8 481.2 190.7C482.5 190.6 483.9 190.5 485.2 190.4C486.5 190.3 487.9 190.2 489.2 190.1C490.5 189.9 491.8 189.8 493.2 189.7C494.5 189.6 495.8 189.5 497.2 189.4C498.5 189.3 499.8 189.2 501.2 189.1C502.5 189 503.8 188.9 505.2 188.8C506.5 188.8 507.9 188.7 509.2 188.6C510.5 188.6 511.9 188.6 513.2 188.5C514.6 188.5 515.9 188.5 517.2 188.5C518.6 188.5 519.9 188.6 521.3 188.6C522.6 188.7 523.9 188.7 525.3 188.8C526.6 188.9 528 188.9 529.3 189C530.7 189.1 532 189.2 533.3 189.3C534.7 189.4 536 189.5 537.4 189.6C538.7 189.7 540.1 189.8 541.4 189.9C542.7 190.1 544.1 190.2 545.4 190.3C546.8 190.4 548.1 190.5 549.4 190.6C550.8 190.7 552.1 190.8 553.5 190.9C554.8 191 556.1 191.1 557.5 191.2C558.8 191.3 560.2 191.3 561.5 191.4C562.8 191.5 564.2 191.5 565.5 191.6C566.9 191.6 568.2 191.6 569.5 191.6C570.9 191.6 572.2 191.6 573.5 191.6C574.9 191.6 576.2 191.5 577.5 191.5C578.9 191.4 580.2 191.3 581.5 191.2C582.9 191.1 584.2 191 585.5 190.9C586.9 190.8 588.2 190.6 589.5 190.4C590.8 190.3 592.2 190.1 593.5 189.9C594.8 189.7 596.1 189.5 597.5 189.3C598.8 189 600.1 188.8 601.4 188.6C602.7 188.3 604.1 188 605.4 187.8C606.7 187.5 608 187.2 609.3 186.9C610.6 186.6 612 186.3 613.3 186C614.6 185.7 615.9 185.3 617.2 185C618.5 184.6 619.8 184.3 621.1 183.9C622.4 183.6 623.7 183.1 625 182.8C626.3 182.6 628.3 182.3 629 182.2M629 182.2C628.6 182.7 627.3 184.4 626.4 185.4C625.5 186.4 624.4 187.3 623.4 188.2C622.4 189.2 621.4 190 620.4 190.9C619.3 191.8 618.3 192.6 617.2 193.4C616.1 194.2 615 195 613.9 195.7C612.8 196.5 611.7 197.2 610.5 197.9C609.4 198.6 608.3 199.2 607.1 199.9C605.9 200.5 604.7 201.2 603.6 201.8C602.4 202.4 601.2 203 599.9 203.5C598.7 204.1 597.5 204.6 596.3 205.1C595 205.7 593.8 206.2 592.5 206.7C591.3 207.1 590 207.6 588.7 208.1C587.5 208.5 586.2 209 584.9 209.4C583.6 209.8 582.3 210.2 581 210.6C579.7 211 578.4 211.4 577.1 211.8C575.8 212.2 574.5 212.5 573.2 212.9C571.9 213.3 570.6 213.6 569.3 213.9C568 214.3 566.6 214.6 565.3 214.9C564 215.3 562.7 215.6 561.3 215.9C560 216.2 558.7 216.5 557.3 216.8C556 217 554.7 217.3 553.3 217.6C552 217.9 550.7 218.1 549.3 218.4C548 218.6 546.6 218.9 545.3 219.1C544 219.3 542.6 219.6 541.3 219.8C539.9 220 538.6 220.2 537.2 220.4C535.9 220.6 534.5 220.8 533.2 221C531.8 221.2 530.5 221.4 529.1 221.6C527.8 221.8 526.4 221.9 525.1 222.1C523.7 222.3 522.4 222.4 521 222.6C519.7 222.7 518.3 222.9 517 223C515.6 223.1 514.3 223.3 513 223.4C511.6 223.5 510.3 223.7 508.9 223.8C507.6 223.9 506.2 224 504.9 224.1C503.5 224.2 502.2 224.3 500.9 224.4C499.5 224.5 498.2 224.6 496.8 224.7C495.5 224.8 494.2 224.9 492.8 224.9C491.5 225 490.2 225.1 488.8 225.1C487.5 225.2 486.2 225.3 484.9 225.3C483.5 225.4 482.2 225.5 480.9 225.5C479.5 225.6 478.2 225.6 476.9 225.7C475.6 225.7 474.2 225.7 472.9 225.8C471.6 225.8 470.3 225.9 468.9 225.9C467.6 225.9 466.3 226 464.9 226C463.6 226 462.3 226 461 226.1C459.6 226.1 458.3 226.1 457 226.1C455.6 226.1 454.3 226.2 453 226.2C451.6 226.2 450.3 226.2 449 226.2C447.6 226.2 446.3 226.3 445 226.3C443.6 226.3 442.3 226.3 440.9 226.3C439.6 226.3 438.2 226.3 436.9 226.3C435.6 226.3 434.2 226.4 432.9 226.4C431.5 226.4 430.2 226.4 428.8 226.4C427.4 226.4 426.1 226.4 424.7 226.4C423.4 226.4 422 226.4 420.6 226.5C419.3 226.5 417.9 226.5 416.5 226.5C415.1 226.5 413.8 226.5 412.4 226.5C411 226.6 409.6 226.6 408.2 226.6C406.8 226.6 405.4 226.6 404 226.7C402.6 226.7 401.2 226.7 399.8 226.7C398.4 226.8 397 226.8 395.6 226.9C394.2 226.9 392.8 226.9 391.4 227C390 227.1 388.6 227.1 387.2 227.2C385.8 227.3 384.4 227.4 383 227.5C381.6 227.6 380.2 227.7 378.8 227.9C377.5 228 376.1 228.2 374.7 228.4C373.4 228.6 372 228.8 370.7 229.1C369.4 229.3 368 229.6 366.7 229.9C365.4 230.2 364.1 230.5 362.9 230.9C361.6 231.2 360.3 231.6 359.1 232.1C357.9 232.5 356.7 233 355.5 233.5C354.3 234 353.1 234.5 352 235.1C350.8 235.7 349.7 236.4 348.6 237C347.5 237.7 346.5 238.4 345.4 239.2C344.4 239.9 343.4 240.7 342.4 241.6C341.3 242.4 340.4 243.3 339.4 244.1C338.4 245 337.5 246 336.5 246.9C335.6 247.8 334.7 248.8 333.8 249.8C332.8 250.8 331.9 251.8 331 252.8C330.1 253.8 329.3 254.9 328.4 255.9C327.5 257 326.6 258 325.7 259.1C324.9 260.2 324 261.2 323.1 262.3C322.2 263.4 321.4 264.4 320.5 265.5C319.6 266.6 318.7 267.6 317.9 268.7C317 269.8 316.1 270.8 315.2 271.8C314.3 272.9 313.4 273.9 312.4 274.9C311.5 275.9 310.6 276.9 309.6 277.9C308.7 278.9 307.7 279.8 306.8 280.8C305.8 281.7 304.8 282.6 303.8 283.5C302.8 284.4 301.8 285.3 300.7 286.1C299.7 287 298.7 287.8 297.6 288.6C296.5 289.4 295.4 290.2 294.3 291C293.2 291.7 292.1 292.4 290.9 293.1C289.8 293.8 288.6 294.5 287.4 295.1C286.3 295.7 285 296.3 283.8 296.8C282.6 297.3 281.4 297.8 280.1 298.3C278.9 298.7 277.6 299.1 276.3 299.4C275.1 299.8 273.8 300.1 272.5 300.3C271.2 300.6 269.9 300.8 268.6 301C267.2 301.2 265.9 301.3 264.6 301.4C263.2 301.6 261.9 301.6 260.6 301.7C259.2 301.8 257.9 301.8 256.5 301.8C255.1 301.9 253.8 301.8 252.4 301.8C251 301.8 249.7 301.8 248.3 301.7C246.9 301.7 245.6 301.6 244.2 301.5C242.8 301.5 241.5 301.4 240.1 301.3C238.7 301.2 237.4 301.2 236 301.1C234.7 301 233.3 300.9 231.9 300.8C230.6 300.8 229.2 300.7 227.9 300.6C226.5 300.5 225.2 300.4 223.8 300.3C222.5 300.3 221.1 300.2 219.8 300.1C218.4 300 217.1 299.9 215.7 299.8C214.4 299.7 213.1 299.6 211.7 299.6C210.4 299.5 209 299.4 207.7 299.3C206.3 299.2 205 299.1 203.7 299C202.3 298.9 201 298.9 199.6 298.8C198.3 298.7 197 298.6 195.6 298.5C194.3 298.4 192.9 298.3 191.6 298.2C190.2 298.1 188.9 298.1 187.5 298C186.2 297.9 184.8 297.8 183.5 297.7C182.1 297.6 180.8 297.6 179.5 297.5C178.1 297.4 176.8 297.3 175.4 297.2C174.1 297.2 172.7 297.1 171.4 297C170 296.9 168.7 296.9 167.3 296.8C166 296.7 164.6 296.7 163.3 296.6C161.9 296.5 160.6 296.5 159.2 296.4C157.9 296.4 156.5 296.3 155.2 296.3C153.8 296.2 152.5 296.2 151.1 296.2C149.8 296.1 148.4 296.1 147.1 296.1C145.7 296 144.4 296 143 296C141.7 296 140.3 296 138.9 296C137.6 295.9 136.2 295.9 134.9 295.9C133.5 296 132.2 296 130.8 296C129.5 296 128.1 296 126.8 296.1C125.4 296.1 124.1 296.1 122.7 296.2C121.4 296.2 120 296.3 118.7 296.3C117.3 296.4 116 296.4 114.6 296.5C113.3 296.6 111.9 296.7 110.6 296.8C109.2 296.9 107.9 297 106.5 297.1C105.2 297.2 103.8 297.3 102.5 297.4C101.1 297.5 99.8 297.7 98.4 297.8C97.1 298 95.1 298.1 94.4 298.2" fill="none" stroke="#9dc3e6" stroke-width="1.9" stroke-linejoin="round" stroke-linecap="round"/>
<path d="M94.4 297.3C94.9 296.9 96.5 295.6 97.7 294.9C98.8 294.1 99.9 293.4 101.1 292.6C102.2 291.9 103.4 291.2 104.5 290.5C105.7 289.8 106.9 289.2 108.1 288.5C109.2 287.9 110.4 287.2 111.6 286.6C112.8 286 114 285.4 115.2 284.8C116.4 284.3 117.6 283.7 118.9 283.2C120.1 282.6 121.3 282.1 122.5 281.6C123.8 281.1 125 280.6 126.3 280.1C127.5 279.6 128.8 279.1 130 278.6C131.3 278.2 132.5 277.7 133.8 277.3C135.1 276.9 136.4 276.5 137.6 276.1C138.9 275.6 140.2 275.3 141.5 274.9C142.8 274.5 144.1 274.1 145.3 273.8C146.6 273.4 147.9 273 149.2 272.7C150.5 272.4 151.8 272 153.2 271.7C154.5 271.4 155.8 271.1 157.1 270.8C158.4 270.5 159.7 270.2 161 269.9C162.3 269.6 163.7 269.3 165 269C166.3 268.8 167.6 268.5 169 268.2C170.3 268 171.6 267.7 172.9 267.5C174.3 267.2 175.6 267 176.9 266.8C178.3 266.5 179.6 266.3 180.9 266.1C182.2 265.8 183.6 265.6 184.9 265.4C186.2 265.2 187.6 265 188.9 264.8C190.3 264.5 191.6 264.3 192.9 264.1C194.3 263.9 195.6 263.7 196.9 263.5C198.3 263.3 199.6 263.1 200.9 262.9C202.3 262.7 203.6 262.5 205 262.3C206.3 262.1 207.6 261.9 209 261.8C210.3 261.6 211.7 261.4 213 261.2C214.3 261 215.7 260.8 217 260.6C218.3 260.4 219.7 260.2 221 260C222.3 259.8 223.7 259.6 225 259.4C226.4 259.2 227.7 259 229 258.8C230.4 258.6 231.7 258.3 233 258.1C234.3 257.9 235.7 257.7 237 257.5C238.3 257.2 239.7 257 241 256.8C242.3 256.5 243.6 256.3 245 256.1C246.3 255.8 247.6 255.6 248.9 255.3C250.2 255.1 251.6 254.8 252.9 254.5C254.2 254.3 255.5 254 256.8 253.7C258.1 253.4 259.4 253.1 260.7 252.8C262.1 252.5 263.4 252.2 264.7 251.9C266 251.6 267.3 251.3 268.6 250.9C269.9 250.6 271.2 250.3 272.5 249.9C273.8 249.6 275 249.2 276.3 248.8C277.6 248.5 278.9 248.1 280.2 247.7C281.5 247.3 282.7 246.9 284 246.5C285.3 246.1 286.6 245.6 287.8 245.2C289.1 244.7 290.3 244.3 291.6 243.8C292.9 243.3 294.1 242.8 295.3 242.3C296.6 241.8 297.8 241.3 299 240.8C300.3 240.2 301.5 239.7 302.7 239.1C303.9 238.5 305.1 238 306.3 237.4C307.5 236.7 308.7 236.1 309.8 235.5C311 234.8 312.2 234.2 313.3 233.5C314.5 232.8 315.6 232.1 316.8 231.4C317.9 230.6 319 229.9 320.1 229.1C321.2 228.4 322.3 227.6 323.4 226.8C324.5 226 325.6 225.2 326.7 224.4C327.8 223.6 328.9 222.8 330 222C331.1 221.2 332.2 220.4 333.3 219.6C334.4 218.8 335.4 218 336.5 217.2C337.6 216.4 338.8 215.6 339.9 214.9C341 214.1 342.1 213.3 343.2 212.6C344.4 211.9 345.5 211.2 346.7 210.5C347.8 209.8 349 209.2 350.2 208.6C351.4 207.9 352.6 207.3 353.8 206.8C355 206.2 356.2 205.6 357.4 205.1C358.7 204.6 359.9 204.1 361.1 203.6C362.4 203.1 363.6 202.6 364.9 202.2C366.1 201.8 367.4 201.4 368.7 201C369.9 200.6 371.2 200.2 372.5 199.9C373.8 199.5 375.1 199.2 376.4 198.9C377.7 198.6 379 198.3 380.3 198.1C381.6 197.8 382.9 197.5 384.2 197.3C385.5 197.1 386.8 196.9 388.2 196.7C389.5 196.5 390.8 196.3 392.2 196.1C393.5 195.9 394.8 195.8 396.2 195.6C397.5 195.5 398.9 195.3 400.2 195.2C401.5 195.1 402.9 195 404.2 194.9C405.6 194.8 407 194.7 408.3 194.6C409.7 194.5 411 194.4 412.4 194.4C413.7 194.3 415.1 194.2 416.5 194.2C417.8 194.1 419.2 194.1 420.6 194C421.9 194 423.3 193.9 424.7 193.9C426 193.8 427.4 193.8 428.7 193.7C430.1 193.7 431.5 193.7 432.8 193.6C434.2 193.6 435.6 193.5 436.9 193.5C438.3 193.5 439.7 193.4 441 193.4C442.4 193.3 443.7 193.3 445.1 193.2C446.4 193.2 447.8 193.1 449.1 193.1C450.5 193 451.8 192.9 453.2 192.8C454.5 192.8 455.9 192.7 457.2 192.6C458.6 192.5 459.9 192.4 461.2 192.3C462.6 192.2 463.9 192.1 465.2 192C466.6 191.9 467.9 191.8 469.2 191.7C470.6 191.6 471.9 191.5 473.2 191.4C474.6 191.3 475.9 191.2 477.2 191.1C478.6 191 479.9 190.8 481.2 190.7C482.5 190.6 483.9 190.5 485.2 190.4C486.5 190.3 487.9 190.2 489.2 190.1C490.5 189.9 491.8 189.8 493.2 189.7C494.5 189.6 495.8 189.5 497.2 189.4C498.5 189.3 499.8 189.2 501.2 189.1C502.5 189 503.8 188.9 505.2 188.8C506.5 188.8 507.9 188.7 509.2 188.6C510.5 188.6 511.9 188.6 513.2 188.5C514.6 188.5 515.9 188.5 517.2 188.5C518.6 188.5 519.9 188.6 521.3 188.6C522.6 188.7 523.9 188.7 525.3 188.8C526.6 188.9 528 188.9 529.3 189C530.7 189.1 532 189.2 533.3 189.3C534.7 189.4 536 189.5 537.4 189.6C538.7 189.7 540.1 189.8 541.4 189.9C542.7 190.1 544.1 190.2 545.4 190.3C546.8 190.4 548.1 190.5 549.4 190.6C550.8 190.7 552.1 190.8 553.5 190.9C554.8 191 556.1 191.1 557.5 191.2C558.8 191.3 560.2 191.3 561.5 191.4C562.8 191.5 564.2 191.5 565.5 191.6C566.9 191.6 568.2 191.6 569.5 191.6C570.9 191.6 572.2 191.6 573.5 191.6C574.9 191.6 576.2 191.5 577.5 191.5C578.9 191.4 580.2 191.3 581.5 191.2C582.9 191.1 584.2 191 585.5 190.9C586.9 190.8 588.2 190.6 589.5 190.4C590.8 190.3 592.2 190.1 593.5 189.9C594.8 189.7 596.1 189.5 597.5 189.3C598.8 189 600.1 188.8 601.4 188.6C602.7 188.3 604.1 188 605.4 187.8C606.7 187.5 608 187.2 609.3 186.9C610.6 186.6 612 186.3 613.3 186C614.6 185.7 615.9 185.3 617.2 185C618.5 184.6 619.8 184.3 621.1 183.9C622.4 183.6 623.7 183.1 625 182.8C626.3 182.6 628.3 182.3 629 182.2M629 182.2C628.6 182.7 627.3 184.4 626.4 185.4C625.5 186.4 624.5 187.4 623.6 188.4C622.6 189.3 621.6 190.2 620.6 191.1C619.5 192 618.5 192.8 617.4 193.6C616.4 194.4 615.3 195.2 614.2 196C613.1 196.7 611.9 197.4 610.8 198.1C609.7 198.8 608.5 199.4 607.3 200.1C606.1 200.7 604.9 201.3 603.7 201.9C602.5 202.5 601.3 203 600.1 203.5C598.9 204.1 597.6 204.6 596.4 205.1C595.1 205.6 593.8 206 592.6 206.5C591.3 206.9 590 207.4 588.7 207.8C587.4 208.2 586.1 208.7 584.8 209.1C583.5 209.5 582.2 209.8 580.9 210.2C579.6 210.6 578.3 211 577 211.3C575.7 211.7 574.4 212.1 573.1 212.4C571.8 212.8 570.5 213.1 569.1 213.5C567.8 213.8 566.5 214.1 565.2 214.5C563.9 214.8 562.6 215.1 561.3 215.5C560 215.8 558.7 216.1 557.4 216.4C556 216.7 554.7 217 553.4 217.3C552.1 217.6 550.8 217.9 549.5 218.2C548.2 218.5 546.9 218.7 545.6 219C544.2 219.3 542.9 219.6 541.6 219.8C540.3 220.1 539 220.3 537.7 220.6C536.3 220.8 535 221 533.7 221.3C532.4 221.5 531.1 221.7 529.8 221.9C528.4 222.1 527.1 222.3 525.8 222.5C524.5 222.7 523.1 222.9 521.8 223.1C520.5 223.3 519.2 223.5 517.8 223.6C516.5 223.8 515.2 223.9 513.9 224.1C512.5 224.2 511.2 224.4 509.9 224.5C508.5 224.6 507.2 224.7 505.9 224.9C504.5 225 503.2 225.1 501.8 225.2C500.5 225.3 499.2 225.3 497.8 225.4C496.5 225.5 495.1 225.5 493.8 225.6C492.4 225.7 491.1 225.7 489.7 225.7C488.4 225.8 487 225.8 485.7 225.8C484.3 225.9 483 225.9 481.6 225.9C480.2 225.9 478.9 225.9 477.5 225.9C476.2 225.9 474.8 225.9 473.4 225.9C472.1 225.9 470.7 225.9 469.4 225.9C468 225.9 466.6 225.9 465.3 225.8C463.9 225.8 462.5 225.8 461.2 225.8C459.8 225.7 458.5 225.7 457.1 225.7C455.7 225.7 454.4 225.6 453 225.6C451.6 225.6 450.3 225.5 448.9 225.5C447.5 225.5 446.2 225.5 444.8 225.4C443.4 225.4 442.1 225.4 440.7 225.4C439.4 225.3 438 225.3 436.6 225.3C435.3 225.3 433.9 225.3 432.5 225.2C431.2 225.2 429.8 225.2 428.5 225.2C427.1 225.2 425.8 225.2 424.4 225.2C423 225.2 421.7 225.2 420.3 225.3C419 225.3 417.6 225.3 416.3 225.3C414.9 225.4 413.6 225.4 412.2 225.4C410.9 225.5 409.5 225.5 408.2 225.6C406.8 225.7 405.5 225.7 404.2 225.8C402.8 225.9 401.5 226 400.1 226.1C398.8 226.2 397.5 226.3 396.1 226.4C394.8 226.5 393.5 226.6 392.1 226.8C390.8 226.9 389.5 227.1 388.2 227.3C386.8 227.4 385.5 227.6 384.2 227.8C382.9 228 381.6 228.2 380.3 228.4C379 228.6 377.6 228.9 376.3 229.1C375 229.3 373.7 229.6 372.4 229.9C371.1 230.2 369.8 230.5 368.5 230.8C367.3 231.1 366 231.4 364.7 231.7C363.4 232.1 362.1 232.5 360.8 232.8C359.6 233.2 358.3 233.6 357 234C355.7 234.4 354.5 234.9 353.2 235.3C351.9 235.8 350.7 236.3 349.4 236.7C348.2 237.2 346.9 237.8 345.7 238.3C344.5 238.9 343.2 239.4 342.1 240C340.9 240.6 339.7 241.3 338.6 242C337.4 242.7 336.3 243.4 335.3 244.2C334.2 245 333.2 245.8 332.2 246.7C331.2 247.5 330.3 248.5 329.4 249.4C328.5 250.4 327.6 251.4 326.7 252.4C325.9 253.4 325 254.5 324.2 255.6C323.4 256.6 322.6 257.7 321.8 258.8C320.9 259.9 320.1 261 319.3 262.1C318.5 263.3 317.7 264.4 316.9 265.5C316.1 266.6 315.3 267.7 314.4 268.8C313.6 269.9 312.7 270.9 311.8 272C310.9 273 310 274.1 309.1 275.1C308.1 276.1 307.2 277.1 306.2 278C305.2 279 304.2 279.9 303.2 280.8C302.2 281.7 301.1 282.6 300.1 283.5C299 284.3 298 285.2 296.9 286C295.8 286.8 294.7 287.6 293.5 288.3C292.4 289 291.3 289.8 290.1 290.4C289 291.1 287.8 291.8 286.6 292.4C285.4 293 284.2 293.6 283 294.1C281.8 294.6 280.6 295.1 279.3 295.6C278.1 296.1 276.9 296.5 275.6 296.9C274.3 297.3 273.1 297.6 271.8 297.9C270.5 298.3 269.2 298.5 267.9 298.8C266.6 299.1 265.3 299.3 264 299.5C262.7 299.7 261.3 299.9 260 300C258.7 300.2 257.3 300.3 256 300.4C254.7 300.5 253.3 300.6 252 300.6C250.6 300.7 249.3 300.8 247.9 300.8C246.6 300.8 245.2 300.8 243.9 300.9C242.5 300.9 241.1 300.9 239.8 300.8C238.4 300.8 237.1 300.8 235.7 300.8C234.4 300.7 233 300.7 231.7 300.7C230.3 300.6 229 300.6 227.6 300.5C226.3 300.5 224.9 300.4 223.6 300.3C222.2 300.3 220.9 300.2 219.5 300.1C218.2 300 216.8 300 215.5 299.9C214.1 299.8 212.8 299.7 211.4 299.6C210.1 299.5 208.7 299.5 207.4 299.4C206.1 299.3 204.7 299.2 203.4 299.1C202 299 200.7 298.9 199.3 298.8C198 298.7 196.6 298.6 195.3 298.5C194 298.4 192.6 298.3 191.3 298.2C189.9 298.2 188.6 298.1 187.2 298C185.9 297.9 184.5 297.8 183.2 297.7C181.9 297.6 180.5 297.5 179.2 297.5C177.8 297.4 176.5 297.3 175.1 297.2C173.8 297.1 172.4 297.1 171.1 297C169.8 296.9 168.4 296.8 167.1 296.8C165.7 296.7 164.4 296.6 163 296.6C161.7 296.5 160.3 296.5 159 296.4C157.7 296.4 156.3 296.3 155 296.3C153.6 296.2 152.3 296.2 150.9 296.1C149.6 296.1 148.2 296.1 146.9 296C145.6 296 144.2 296 142.9 296C141.5 296 140.2 295.9 138.8 295.9C137.5 295.9 136.1 295.9 134.8 295.9C133.4 295.9 132.1 296 130.8 296C129.4 296 128.1 296 126.7 296C125.4 296.1 124 296.1 122.7 296.2C121.3 296.2 120 296.3 118.6 296.3C117.3 296.4 115.9 296.4 114.6 296.5C113.3 296.6 111.9 296.7 110.6 296.8C109.2 296.9 107.9 297 106.5 297.1C105.2 297.2 103.8 297.3 102.5 297.4C101.1 297.5 99.8 297.7 98.4 297.8C97.1 298 95.1 298.1 94.4 298.2" fill="none" stroke="#f2b6a6" stroke-width="1.9" stroke-linejoin="round" stroke-linecap="round"/>
<g stroke="#3c3c3c" stroke-width="1.3" fill="none">
<path d="M94.1 7.6 V445 H629.7"/>
<path d="M94.1 7.6h-5.2M94.1 22.2h-4.2M94.1 36.8h-4.2M94.1 51.3h-4.2M94.1 65.9h-4.2M94.1 80.5h-5.2M94.1 95.1h-4.2M94.1 109.7h-4.2M94.1 124.2h-4.2M94.1 138.8h-4.2M94.1 153.4h-5.2M94.1 168h-4.2M94.1 182.6h-4.2M94.1 197.1h-4.2M94.1 211.7h-4.2M94.1 226.3h-5.2M94.1 240.9h-4.2M94.1 255.5h-4.2M94.1 270h-4.2M94.1 284.6h-4.2M94.1 299.2h-5.2M94.1 313.8h-4.2M94.1 328.4h-4.2M94.1 342.9h-4.2M94.1 357.5h-4.2M94.1 372.1h-5.2M94.1 386.7h-4.2M94.1 401.3h-4.2M94.1 415.8h-4.2M94.1 430.4h-4.2M94.1 445h-5.2M94.1 445v4.6M110.6 444.8v3.4M127.1 444.8v3.4M143.5 444.8v3.4M160 444.8v3.4M176.5 445v4.6M193 444.8v3.4M209.5 444.8v3.4M225.9 444.8v3.4M242.4 444.8v3.4M258.9 445v4.6M275.4 444.8v3.4M291.9 444.8v3.4M308.3 444.8v3.4M324.8 444.8v3.4M341.3 445v4.6M357.8 444.8v3.4M374.3 444.8v3.4M390.7 444.8v3.4M407.2 444.8v3.4M423.7 445v4.6M440.2 444.8v3.4M456.7 444.8v3.4M473.1 444.8v3.4M489.6 444.8v3.4M506.1 445v4.6M522.6 444.8v3.4M539.1 444.8v3.4M555.5 444.8v3.4M572 444.8v3.4M588.5 445v4.6M605 444.8v3.4M621.5 444.8v3.4" stroke-width="1.15"/>
</g>
<g font-family="'Liberation Sans',sans-serif" font-size="14.7" fill="#3a3a3a" text-anchor="end">
<text x="81" y="13">60</text>
<text x="81" y="85.9">40</text>
<text x="81" y="158.8">20</text>
<text x="81" y="231.7">0</text>
<text x="81" y="304.6">-20</text>
<text x="81" y="377.5">-40</text>
<text x="81" y="450.4">-60</text>
</g>
<g font-family="'Liberation Serif',serif" font-size="15.7" fill="#2e2e2e" text-anchor="middle">
<text x="94.3" y="467.8">-0.5</text>
<text x="176.7" y="467.8">-0.3</text>
<text x="259.1" y="467.8">-0.1</text>
<text x="341.5" y="467.8">0.1</text>
<text x="423.9" y="467.8">0.3</text>
<text x="506.3" y="467.8">0.5</text>
<text x="588.7" y="467.8">0.7</text>
</g>
<g font-family="'Liberation Serif',serif" fill="#1c1c1c">
<text transform="translate(46.6 238.6) rotate(-90)" font-size="21.5" text-anchor="middle">Current/µA</text>
<text x="373" y="498.6" font-size="22.2" text-anchor="middle">Potential/V</text>
<text x="32.2" y="493.4" font-size="25.6" font-weight="bold" fill="#111" textLength="32.8" lengthAdjust="spacingAndGlyphs">(a)</text>
</g>
<text x="491" y="269.4" font-family="'Liberation Serif',serif" font-weight="bold" font-size="14.5" text-anchor="middle" fill="#111">a</text>
<path d="M506.5 267.9H534" stroke="#5b9bd5" stroke-width="1.9"/>
<text x="546.5" y="272.8" font-family="'Liberation Serif',serif" font-size="16" fill="#2a2a2a" textLength="29.4" lengthAdjust="spacingAndGlyphs">Bare</text>
<text x="491" y="291.5" font-family="'Liberation Serif',serif" font-weight="bold" font-size="14.5" text-anchor="middle" fill="#111">b</text>
<path d="M506.5 289H534" stroke="#e17c38" stroke-width="1.9"/>
<text x="544.9" y="293.9" font-family="'Liberation Serif',serif" font-size="16" fill="#2a2a2a" textLength="107.2" lengthAdjust="spacingAndGlyphs">Nano composite</text>
<text x="491" y="312.8" font-family="'Liberation Serif',serif" font-weight="bold" font-size="14.5" text-anchor="middle" fill="#111">c</text>
<path d="M506.5 310.3H534" stroke="#a3a3a3" stroke-width="1.9"/>
<text x="544.9" y="315.2" font-family="'Liberation Serif',serif" font-size="16" fill="#2a2a2a" textLength="77" lengthAdjust="spacingAndGlyphs">MUP-MPA</text>
<text x="491" y="334.3" font-family="'Liberation Serif',serif" font-weight="bold" font-size="14.5" text-anchor="middle" fill="#111">d</text>
<path d="M506.5 331.3H534" stroke="#f4bc18" stroke-width="1.9"/>
<text x="544.9" y="336.2" font-family="'Liberation Serif',serif" font-size="16" fill="#2a2a2a" textLength="47.6" lengthAdjust="spacingAndGlyphs">APTES</text>
<text x="491" y="353" font-family="'Liberation Serif',serif" font-weight="bold" font-size="14.5" text-anchor="middle" fill="#111">e</text>
<path d="M506.5 352.1H534" stroke="#4472c4" stroke-width="1.9"/>
<text x="545.7" y="357" font-family="'Liberation Serif',serif" font-size="16" fill="#2a2a2a" textLength="25" lengthAdjust="spacingAndGlyphs">Glu</text>
<text x="491" y="374.8" font-family="'Liberation Serif',serif" font-weight="bold" font-size="14.5" text-anchor="middle" fill="#111">f</text>
<path d="M506.5 372.5H534" stroke="#70ad47" stroke-width="1.9"/>
<text x="545.7" y="377.4" font-family="'Liberation Serif',serif" font-size="16" fill="#2a2a2a" textLength="82.8" lengthAdjust="spacingAndGlyphs">anti-BNYVV</text>
<text x="491" y="395.8" font-family="'Liberation Serif',serif" font-weight="bold" font-size="14.5" text-anchor="middle" fill="#111">g</text>
<path d="M506.5 393.5H534" stroke="#9dc3e6" stroke-width="1.9"/>
<text x="542.5" y="398.4" font-family="'Liberation Serif',serif" font-size="16" fill="#2a2a2a" textLength="30" lengthAdjust="spacingAndGlyphs">BSA</text>
<text x="491" y="418.4" font-family="'Liberation Serif',serif" font-weight="bold" font-size="14.5" text-anchor="middle" fill="#111">h</text>
<path d="M506.5 413.9H534" stroke="#f2b6a6" stroke-width="1.9"/>
<text x="543.8" y="418.8" font-family="'Liberation Serif',serif" font-size="16" fill="#2a2a2a" textLength="80.7" lengthAdjust="spacingAndGlyphs">CP-BYNVV</text>
<text x="402.8" y="36.4" font-family="'Liberation Serif',serif" font-weight="bold" font-size="15.6" text-anchor="middle" fill="#111">b</text>
<text x="425.5" y="57.6" font-family="'Liberation Serif',serif" font-weight="bold" font-size="15.6" text-anchor="middle" fill="#111">d</text>
<text x="403.5" y="116.8" font-family="'Liberation Serif',serif" font-weight="bold" font-size="15.6" text-anchor="middle" fill="#111">a</text>
<text x="422.8" y="158.2" font-family="'Liberation Serif',serif" font-weight="bold" font-size="15.6" text-anchor="middle" fill="#111">e</text>
<text x="490.6" y="126.4" font-family="'Liberation Serif',serif" font-weight="bold" font-size="15.6" text-anchor="middle" fill="#111">f</text>
<text x="504.8" y="134" font-family="'Liberation Serif',serif" font-weight="bold" font-size="15.6" text-anchor="middle" fill="#111">c</text>
<text x="524.2" y="143.2" font-family="'Liberation Serif',serif" font-weight="bold" font-size="15.6" text-anchor="middle" fill="#111">h</text>
<text x="325.6" y="304" font-family="'Liberation Serif',serif" font-weight="bold" font-size="15.6" text-anchor="middle" fill="#111">g</text>
<path d="M402 64.5L401.6 54.6" stroke="#151515" stroke-width="0.9" stroke-dasharray="1.2 1.2"/>
<path d="M401.2 46L405.9 54.4L397.3 54.8Z" fill="#0a0a0a"/>
<path d="M400.7 89.5L412.5 71.8" stroke="#151515" stroke-width="0.9" stroke-dasharray="1.2 1.2"/>
<path d="M417.3 64.7L416.1 74.2L408.9 69.5Z" fill="#0a0a0a"/>
<path d="M410.6 140.3L408.6 133" stroke="#151515" stroke-width="1.15" />
<path d="M406.4 124.7L412.8 131.9L404.5 134.1Z" fill="#0a0a0a"/>
<path d="M441 166.5L437.1 162.7" stroke="#151515" stroke-width="1.15" />
<path d="M431 156.6L440.1 159.6L434.1 165.7Z" fill="#0a0a0a"/>
<path d="M465 177.4L483.4 141.8" stroke="#151515" stroke-width="1.15" />
<path d="M487.3 134.2L487.2 143.8L479.5 139.9Z" fill="#0a0a0a"/>
<path d="M470.7 199.3L497.2 148.6" stroke="#151515" stroke-width="1.15" />
<path d="M501.2 141L501 150.6L493.4 146.6Z" fill="#0a0a0a"/>
<path d="M492.5 190.6L511.4 154.7" stroke="#151515" stroke-width="1.15" />
<path d="M515.4 147.1L515.2 156.7L507.6 152.7Z" fill="#0a0a0a"/>
<path d="M307.5 285.5L313.1 291.1" stroke="#151515" stroke-width="1.15" />
<path d="M319.2 297.2L310.1 294.2L316.2 288.1Z" fill="#0a0a0a"/>
</g>
</g>
</svg></body></html>
